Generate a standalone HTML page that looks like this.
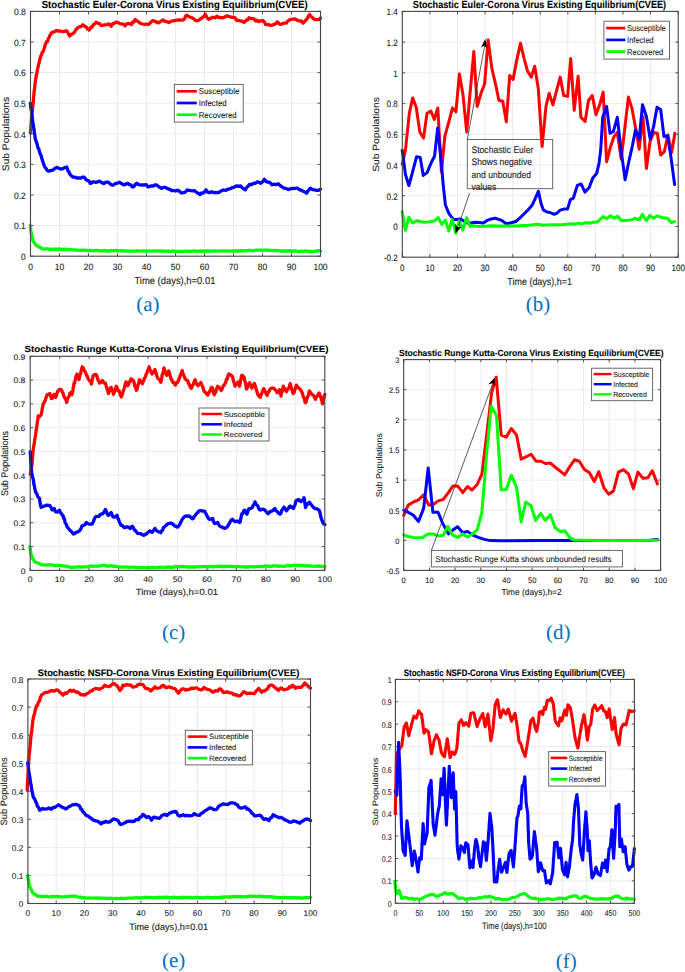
<!DOCTYPE html>
<html><head><meta charset="utf-8"><style>
html,body{margin:0;padding:0;background:#fff;overflow:hidden;width:685px;height:972px;}
svg{display:block;}
text{font-family:"Liberation Sans",sans-serif;fill:#222;stroke:#222;stroke-width:0.12px;text-rendering:geometricPrecision;}
text.ttl{font-weight:bold;fill:#000;stroke:#000;stroke-width:0.1px;}
text.cap{font-family:"Liberation Serif",serif;fill:#0070c0;stroke:none;}
</style></head><body>
<svg width="685" height="972" viewBox="0 0 685 972">
<rect width="685" height="972" fill="#fff"/>
<g>
<path d="M59.5 11.4V256.2M88.5 11.4V256.2M117.5 11.4V256.2M146.5 11.4V256.2M175.5 11.4V256.2M204.5 11.4V256.2M233.5 11.4V256.2M262.5 11.4V256.2M291.5 11.4V256.2M30.5 225.6H320.5M30.5 195.0H320.5M30.5 164.4H320.5M30.5 133.8H320.5M30.5 103.2H320.5M30.5 72.6H320.5M30.5 42.0H320.5" stroke="#ebebeb" stroke-width="1" fill="none"/>
<path d="M30.5 256.2v-3.0M30.5 11.4v3.0M59.5 256.2v-3.0M59.5 11.4v3.0M88.5 256.2v-3.0M88.5 11.4v3.0M117.5 256.2v-3.0M117.5 11.4v3.0M146.5 256.2v-3.0M146.5 11.4v3.0M175.5 256.2v-3.0M175.5 11.4v3.0M204.5 256.2v-3.0M204.5 11.4v3.0M233.5 256.2v-3.0M233.5 11.4v3.0M262.5 256.2v-3.0M262.5 11.4v3.0M291.5 256.2v-3.0M291.5 11.4v3.0M320.5 256.2v-3.0M320.5 11.4v3.0M30.5 256.2h3.0M320.5 256.2h-3.0M30.5 225.6h3.0M320.5 225.6h-3.0M30.5 195.0h3.0M320.5 195.0h-3.0M30.5 164.4h3.0M320.5 164.4h-3.0M30.5 133.8h3.0M320.5 133.8h-3.0M30.5 103.2h3.0M320.5 103.2h-3.0M30.5 72.6h3.0M320.5 72.6h-3.0M30.5 42.0h3.0M320.5 42.0h-3.0M30.5 11.4h3.0M320.5 11.4h-3.0" stroke="#444" stroke-width="0.9" fill="none"/>
<polyline points="30.3,133.1 30.5,131.9 30.6,129.9 30.8,128.4 30.9,126.4 31.1,124.9 31.2,121.9 31.4,121.4 31.5,118.1 31.7,117.9 31.9,116.1 32.0,113.2 32.2,111.5 32.4,111.1 32.5,109.2 32.7,106.0 32.9,106.0 33.0,103.6 33.2,102.6 33.4,100.8 33.5,97.5 33.7,96.4 33.9,94.4 34.0,93.3 34.2,90.6 34.4,90.0 34.5,88.8 34.7,87.2 35.0,84.6 35.2,82.6 35.5,80.8 35.8,78.8 36.0,77.9 36.3,75.3 36.6,73.7 37.0,72.8 37.3,70.4 37.6,68.5 38.0,67.9 38.3,65.6 38.8,63.7 39.2,62.5 39.7,60.0 40.3,57.6 40.8,56.1 41.4,54.9 42.0,53.1 42.6,51.7 43.5,50.9 44.5,47.4 45.0,45.5 45.5,44.2 46.5,41.8 47.5,41.4 48.4,38.6 49.2,37.1 50.2,35.1 51.1,33.6 52.1,32.1 53.6,32.2 55.0,31.3 56.5,30.5 58.3,31.1 60.1,31.0 63.0,31.7 64.6,31.4 66.2,30.7 67.3,31.6 68.5,33.9 69.6,36.1 71.4,34.2 73.3,33.4 74.7,31.8 76.2,29.2 77.6,28.0 79.3,26.7 81.0,26.6 82.7,24.8 84.6,26.2 86.4,27.2 87.8,29.3 89.3,30.0 90.8,27.2 92.2,27.0 93.4,24.6 94.7,23.9 95.9,22.3 97.7,23.1 99.5,23.6 101.0,25.3 102.5,25.3 104.7,24.8 106.8,24.6 109.0,23.8 111.2,26.2 112.7,23.6 114.1,23.6 115.6,22.2 117.8,22.3 120.0,23.7 121.7,24.0 123.4,24.2 125.1,25.9 126.5,24.1 127.9,23.4 129.8,23.7 131.6,24.5 132.8,22.0 134.0,22.0 135.2,19.5 136.6,20.7 138.1,21.6 140.3,23.3 142.5,24.0 144.5,24.5 146.4,24.0 148.4,24.6 149.8,23.4 151.3,21.7 152.8,20.7 154.2,21.1 155.6,21.3 157.1,22.7 158.6,22.8 160.1,21.7 161.5,20.9 163.0,19.9 164.9,21.4 166.9,21.6 168.8,22.6 171.0,21.2 173.2,20.8 175.1,20.4 177.1,20.1 179.0,20.0 181.2,20.2 183.4,19.8 184.6,18.7 185.8,15.8 187.0,15.2 188.7,16.5 190.5,17.2 192.2,17.9 193.9,18.9 195.6,20.6 197.3,20.7 199.1,20.0 200.9,18.6 202.4,17.5 203.8,16.4 205.3,14.2 206.5,16.5 207.7,18.5 208.9,19.4 210.8,18.3 212.6,17.2 214.8,17.9 217.0,16.1 218.7,17.7 220.3,17.3 222.0,17.8 224.2,17.3 226.4,15.9 228.3,16.2 230.3,16.9 232.2,17.3 233.7,17.1 235.1,17.9 236.6,20.5 238.4,20.2 240.2,21.1 242.1,21.2 243.9,22.5 245.2,21.3 246.4,20.1 247.7,20.0 249.0,17.7 250.7,18.6 252.4,18.6 254.1,18.9 255.6,20.9 257.0,20.2 258.5,21.6 260.7,20.9 262.9,20.5 264.4,22.1 265.8,24.6 267.3,24.7 269.0,24.6 270.7,25.5 272.4,25.1 274.1,24.4 275.8,23.6 277.5,21.7 278.9,23.7 280.4,24.4 282.3,23.7 284.3,23.2 286.2,23.2 287.7,21.1 289.1,20.2 290.6,19.3 292.6,19.1 294.5,18.8 296.5,19.8 298.1,20.6 299.8,21.0 301.4,20.8 303.0,23.2 304.9,21.3 306.7,19.1 307.7,17.9 308.6,15.9 309.6,14.4 310.8,16.1 312.0,17.2 313.2,18.5 315.4,19.7 317.6,19.7 319.1,19.7 320.5,18.1" stroke="#ff0000" stroke-width="3.3" fill="none" stroke-linejoin="round" stroke-linecap="round"/>
<polyline points="30.3,103.3 30.5,104.6 30.8,107.7 31.0,108.9 31.2,109.6 31.5,111.2 31.7,113.2 32.0,116.2 32.2,116.7 32.4,118.6 32.7,121.9 32.9,122.2 33.1,124.3 33.5,126.0 33.8,128.4 34.2,130.7 34.4,133.0 34.6,134.0 34.9,135.4 35.1,137.8 35.3,139.2 35.9,140.5 36.5,142.4 37.0,143.5 37.6,146.6 38.2,148.1 38.8,148.8 39.4,151.6 39.9,152.9 40.5,154.6 41.1,155.5 41.7,158.0 42.3,160.0 42.9,161.9 43.5,163.3 44.1,165.7 45.2,167.5 46.2,168.7 47.3,170.6 48.4,171.1 49.9,170.9 51.3,170.4 52.8,170.2 55.0,168.3 57.2,167.4 59.4,168.7 61.6,169.0 63.3,168.4 65.0,167.5 66.7,167.0 67.4,169.1 68.1,171.2 68.9,171.5 69.6,173.8 70.3,174.5 71.8,176.3 73.2,177.2 74.7,177.1 76.9,178.0 79.1,178.0 80.8,178.2 82.5,177.1 84.2,177.2 86.1,179.7 87.9,180.7 89.1,181.0 90.3,183.4 91.5,182.9 93.3,181.7 95.2,182.3 97.3,182.0 99.5,181.2 101.7,182.6 103.9,183.5 106.1,182.2 108.3,182.1 110.1,183.9 111.9,185.0 113.6,185.1 115.4,183.4 117.1,183.4 119.2,182.3 121.4,183.4 123.6,184.9 125.8,184.1 127.9,183.4 129.4,184.6 130.9,184.9 132.3,187.0 133.8,186.7 135.2,184.5 136.7,183.2 138.6,184.6 140.6,185.0 142.5,185.0 144.3,184.9 146.2,184.6 148.0,186.9 149.8,186.4 151.5,185.8 153.2,186.1 154.9,184.8 156.6,185.0 158.3,186.3 160.0,187.6 161.7,188.4 163.4,187.3 165.1,187.3 166.9,188.3 168.8,189.2 170.2,189.4 171.7,190.7 173.7,190.5 175.6,191.0 177.6,190.2 179.5,191.2 181.5,192.9 183.4,192.6 185.2,192.2 187.0,190.0 189.0,190.3 190.9,190.7 192.9,190.9 194.7,190.6 196.6,192.4 198.4,193.3 200.2,194.6 201.6,192.8 203.1,193.2 204.6,191.9 206.0,189.8 207.8,192.3 209.7,192.7 211.5,191.6 213.3,192.6 215.2,192.5 217.0,192.6 218.7,192.5 220.3,191.5 222.0,190.3 223.9,190.0 225.9,190.4 227.8,189.3 229.3,188.9 230.8,188.5 232.2,187.6 233.7,187.3 235.4,186.3 237.1,185.8 238.8,186.4 240.5,185.9 242.1,187.7 243.8,188.8 245.4,189.8 246.8,187.2 248.3,185.9 249.7,184.2 251.5,184.8 253.3,183.3 255.2,183.3 257.0,182.0 258.9,182.2 260.7,183.3 261.9,182.3 263.1,181.3 264.3,179.2 265.8,181.2 267.2,182.0 268.7,182.1 270.4,182.9 272.1,184.8 273.8,184.2 276.0,184.7 278.2,183.7 279.9,185.4 281.6,186.5 283.3,187.8 285.0,188.2 286.7,188.8 288.4,189.6 290.2,188.8 292.1,188.5 293.8,188.3 295.5,188.4 297.2,188.0 299.4,189.6 301.6,190.4 303.3,191.2 305.0,192.1 306.7,193.2 307.9,191.0 309.1,189.5 310.3,188.2 312.5,189.6 314.7,189.9 316.9,190.5 319.1,190.1 320.5,189.2" stroke="#0000ff" stroke-width="3.3" fill="none" stroke-linejoin="round" stroke-linecap="round"/>
<polyline points="30.2,225.5 30.4,227.6 30.7,229.3 30.9,231.0 31.2,233.4 31.6,235.1 32.0,236.1 32.3,237.8 32.7,239.6 33.1,240.9 34.3,242.5 35.6,244.8 36.8,245.6 38.7,246.7 40.7,247.8 42.6,248.8 44.4,249.1 46.2,248.8 48.1,248.9 49.9,249.5 51.5,249.5 53.1,249.2 54.8,249.2 56.4,249.6 58.0,249.0 59.6,249.0 61.3,249.6 62.9,249.5 64.5,249.0 66.1,249.7 67.7,249.4 69.4,249.5 71.0,249.6 72.6,250.0 74.2,249.9 75.9,249.9 77.5,250.3 79.1,250.4 80.7,250.2 82.3,250.3 84.0,250.1 85.6,250.1 87.2,250.6 88.8,250.5 90.5,250.4 92.1,250.7 93.7,251.0 95.3,250.4 96.9,250.3 98.6,250.9 100.2,250.9 101.8,250.6 103.4,250.8 105.1,250.6 106.7,251.0 108.3,250.8 109.9,251.0 111.6,250.5 113.2,250.9 114.9,250.5 116.5,250.6 118.2,250.8 119.8,250.9 121.4,250.7 123.1,250.8 124.7,251.2 126.4,251.0 128.0,251.2 129.6,251.1 131.2,251.0 132.8,251.2 134.4,251.3 136.0,250.8 137.6,250.8 139.2,251.1 140.8,251.2 142.4,250.9 144.0,251.0 145.6,250.8 147.2,251.0 148.8,251.2 150.4,251.1 152.0,251.1 153.6,251.0 155.2,251.1 156.8,250.9 158.4,250.9 160.0,251.4 161.6,250.8 163.2,251.2 164.8,251.2 166.4,251.2 168.0,251.3 169.6,251.2 171.2,251.5 172.8,251.0 174.4,251.2 176.0,251.3 177.6,251.4 179.2,251.4 180.8,251.4 182.4,251.1 184.0,251.3 185.6,251.0 187.2,251.4 188.8,251.3 190.4,251.4 192.0,251.1 193.6,251.0 195.2,251.0 196.8,251.4 198.4,251.2 200.0,250.9 201.6,251.6 203.2,251.2 204.8,251.0 206.4,251.0 208.0,251.0 209.6,251.3 211.2,251.0 212.8,251.0 214.4,250.9 216.0,251.0 217.6,251.2 219.2,251.2 220.8,251.2 222.4,250.7 224.0,251.2 225.6,250.8 227.2,251.2 228.8,250.9 230.4,251.1 232.0,251.2 233.6,250.8 235.2,251.0 236.8,251.0 238.4,251.1 240.0,250.6 241.7,251.2 243.4,250.6 245.1,250.7 246.8,250.9 248.5,250.3 250.2,250.4 251.8,250.5 253.5,250.8 255.2,250.2 256.9,250.1 258.6,250.2 260.3,250.2 262.0,250.1 263.6,250.4 265.3,250.0 266.9,250.2 268.5,250.2 270.2,250.4 271.8,250.4 273.5,250.6 275.1,250.7 276.7,250.3 278.4,250.7 280.0,251.0 281.7,250.8 283.3,251.0 285.0,251.3 286.7,250.8 288.3,251.2 290.0,250.7 291.7,250.9 293.3,251.4 295.0,251.0 296.7,251.2 298.3,251.6 300.0,251.4 301.7,251.1 303.4,251.4 305.1,251.0 306.8,251.0 308.5,251.5 310.2,251.3 312.0,251.5 313.7,251.3 315.4,251.3 317.1,250.9 318.8,250.7 320.5,251.0" stroke="#00ff00" stroke-width="3.3" fill="none" stroke-linejoin="round" stroke-linecap="round"/>
<rect x="30.5" y="11.4" width="290.0" height="244.8" stroke="#444" stroke-width="1.1" fill="none"/>
<text transform="translate(25.80 260.07) scale(0.8500 0.9137)" font-size="10" text-anchor="end">0</text>
<text transform="translate(25.80 229.47) scale(0.8500 0.9137)" font-size="10" text-anchor="end">0.1</text>
<text transform="translate(25.80 198.87) scale(0.8500 0.9137)" font-size="10" text-anchor="end">0.2</text>
<text transform="translate(25.80 168.27) scale(0.8500 0.9137)" font-size="10" text-anchor="end">0.3</text>
<text transform="translate(25.80 137.67) scale(0.8500 0.9137)" font-size="10" text-anchor="end">0.4</text>
<text transform="translate(25.80 107.07) scale(0.8500 0.9137)" font-size="10" text-anchor="end">0.5</text>
<text transform="translate(25.80 76.47) scale(0.8500 0.9137)" font-size="10" text-anchor="end">0.6</text>
<text transform="translate(25.80 45.87) scale(0.8500 0.9137)" font-size="10" text-anchor="end">0.7</text>
<text transform="translate(25.80 15.27) scale(0.8500 0.9137)" font-size="10" text-anchor="end">0.8</text>
<text transform="translate(30.50 269.70) scale(0.8500 0.9137)" font-size="10" text-anchor="middle">0</text>
<text transform="translate(59.50 269.70) scale(0.8500 0.9137)" font-size="10" text-anchor="middle">10</text>
<text transform="translate(88.50 269.70) scale(0.8500 0.9137)" font-size="10" text-anchor="middle">20</text>
<text transform="translate(117.50 269.70) scale(0.8500 0.9137)" font-size="10" text-anchor="middle">30</text>
<text transform="translate(146.50 269.70) scale(0.8500 0.9137)" font-size="10" text-anchor="middle">40</text>
<text transform="translate(175.50 269.70) scale(0.8500 0.9137)" font-size="10" text-anchor="middle">50</text>
<text transform="translate(204.50 269.70) scale(0.8500 0.9137)" font-size="10" text-anchor="middle">60</text>
<text transform="translate(233.50 269.70) scale(0.8500 0.9137)" font-size="10" text-anchor="middle">70</text>
<text transform="translate(262.50 269.70) scale(0.8500 0.9137)" font-size="10" text-anchor="middle">80</text>
<text transform="translate(291.50 269.70) scale(0.8500 0.9137)" font-size="10" text-anchor="middle">90</text>
<text transform="translate(320.50 269.70) scale(0.8500 0.9137)" font-size="10" text-anchor="middle">100</text>
<text transform="translate(174.90 283.80) scale(0.9410 1.0116)" font-size="10" text-anchor="middle">Time (days),h=0.01</text>
<text transform="translate(9.00 134.00) rotate(-90) scale(1.0202 0.9490)" font-size="10" text-anchor="middle">Sub Populations</text>
<text transform="translate(41.70 7.60) scale(0.9580 1.0298)" font-size="10" class="ttl" textLength="277.56" lengthAdjust="spacingAndGlyphs">Stochastic Euler-Corona Virus Existing Equilibrium(CVEE)</text>
<rect x="174.3" y="84.4" width="68.9" height="37.7" stroke="#5a5a5a" stroke-width="0.9" fill="#fff"/>
<path d="M176.7 91.3H196.8" stroke="#ff0000" stroke-width="2.7"/>
<text transform="translate(198.70 94.21) scale(0.7850 0.8439)" font-size="10">Susceptible</text>
<path d="M176.7 103.0H196.8" stroke="#0000ff" stroke-width="2.7"/>
<text transform="translate(198.70 105.91) scale(0.7850 0.8439)" font-size="10">Infected</text>
<path d="M176.7 114.7H196.8" stroke="#00ff00" stroke-width="2.7"/>
<text transform="translate(198.70 117.61) scale(0.7850 0.8439)" font-size="10">Recovered</text>
<path d="M429.9 11.4V257.2M457.5 11.4V257.2M485.1 11.4V257.2M512.7 11.4V257.2M540.2 11.4V257.2M567.8 11.4V257.2M595.4 11.4V257.2M623.0 11.4V257.2M650.6 11.4V257.2M402.3 226.5H678.2M402.3 195.7H678.2M402.3 165.0H678.2M402.3 134.3H678.2M402.3 103.6H678.2M402.3 72.8H678.2M402.3 42.1H678.2" stroke="#ebebeb" stroke-width="1" fill="none"/>
<path d="M402.3 257.2v-3.0M402.3 11.4v3.0M429.9 257.2v-3.0M429.9 11.4v3.0M457.5 257.2v-3.0M457.5 11.4v3.0M485.1 257.2v-3.0M485.1 11.4v3.0M512.7 257.2v-3.0M512.7 11.4v3.0M540.2 257.2v-3.0M540.2 11.4v3.0M567.8 257.2v-3.0M567.8 11.4v3.0M595.4 257.2v-3.0M595.4 11.4v3.0M623.0 257.2v-3.0M623.0 11.4v3.0M650.6 257.2v-3.0M650.6 11.4v3.0M678.2 257.2v-3.0M678.2 11.4v3.0M402.3 257.2h2.9M678.2 257.2h-2.9M402.3 226.5h2.9M678.2 226.5h-2.9M402.3 195.7h2.9M678.2 195.7h-2.9M402.3 165.0h2.9M678.2 165.0h-2.9M402.3 134.3h2.9M678.2 134.3h-2.9M402.3 103.6h2.9M678.2 103.6h-2.9M402.3 72.8h2.9M678.2 72.8h-2.9M402.3 42.1h2.9M678.2 42.1h-2.9M402.3 11.4h2.9M678.2 11.4h-2.9" stroke="#444" stroke-width="0.9" fill="none"/>
<polyline points="402.2,164.3 405.4,150.4 409.3,113.4 412.7,97.9 416.2,107.2 419.8,131.9 423.5,138.1 427.0,113.4 430.9,111.0 434.3,119.5 437.8,108.0 441.4,172.0 444.8,136.5 448.6,122.6 452.5,108.0 455.9,111.8 459.4,74.0 463.0,94.8 466.7,131.9 470.2,91.7 473.8,51.6 477.2,106.4 481.0,93.3 484.6,84.0 488.1,40.0 491.9,68.6 495.5,84.0 498.9,100.2 502.8,101.3 506.3,121.8 509.7,75.5 513.1,79.4 516.6,60.9 520.5,43.1 523.9,57.8 527.5,70.9 531.3,77.1 534.7,66.3 538.3,88.7 542.1,146.5 546.0,106.4 549.1,93.3 552.9,104.9 556.3,91.7 560.2,77.1 563.7,95.6 567.6,96.4 570.7,58.6 574.2,110.3 578.1,76.2 580.9,117.3 585.1,121.5 588.5,100.5 592.3,95.5 596.0,114.8 599.9,103.9 603.2,92.1 606.6,161.8 610.3,147.5 614.0,136.6 617.3,132.4 621.2,159.3 628.4,97.1 632.1,108.9 635.5,127.4 639.2,149.2 643.0,116.5 646.4,168.5 650.2,140.8 653.9,132.4 657.3,133.2 660.7,155.1 664.3,151.7 667.9,134.9 671.6,152.5 674.9,133.2" stroke="#ff0000" stroke-width="3.0" fill="none" stroke-linejoin="round" stroke-linecap="round"/>
<polyline points="402.2,150.2 405.5,174.7 408.9,185.5 413.0,170.4 416.6,156.7 420.2,157.4 423.3,175.4 427.1,172.6 431.0,163.2 434.6,156.0 437.7,127.9 441.0,158.9 443.2,184.8 445.4,205.0 449.0,213.6 453.3,219.4 456.9,219.4 460.5,219.1 463.4,220.8 467.0,223.0 470.6,223.0 474.9,222.2 479.2,222.5 483.5,223.0 487.8,220.1 490.1,219.3 495.2,218.3 501.1,220.1 506.2,223.7 511.3,222.7 515.7,221.5 520.0,217.9 524.4,213.5 528.8,209.1 532.4,204.7 535.4,198.2 538.3,191.2 541.2,204.0 543.4,209.9 547.0,212.0 550.0,212.5 553.6,214.2 556.5,213.5 560.2,210.1 563.8,209.1 567.5,209.1 570.4,199.6 573.3,198.2 577.4,185.3 581.1,184.0 585.0,192.1 589.1,187.7 592.7,178.1 596.7,173.3 599.1,162.8 600.7,150.0 602.7,117.3 606.6,106.4 610.0,133.2 613.3,131.6 617.3,117.3 621.2,150.9 625.1,179.7 628.8,161.8 632.4,145.8 635.5,129.9 639.2,139.1 642.5,104.7 646.4,116.5 650.2,139.1 653.6,126.5 657.0,107.2 660.7,109.7 664.0,136.6 667.4,135.8 670.7,155.1 674.6,184.5" stroke="#0000ff" stroke-width="3.0" fill="none" stroke-linejoin="round" stroke-linecap="round"/>
<polyline points="402.2,211.4 405.5,230.2 408.9,217.2 412.7,223.0 416.6,220.8 420.2,221.5 423.8,222.2 427.4,222.0 431.0,221.5 434.6,220.8 438.2,217.6 441.8,224.4 445.4,220.1 448.7,230.9 452.1,219.4 455.9,233.0 459.3,220.8 462.9,230.2 466.5,217.9 470.1,226.3 473.7,225.8 477.8,226.6 482.1,226.3 486.4,226.3 490.0,225.8 499.6,225.9 514.2,225.9 528.8,225.2 537.6,224.2 543.4,225.2 550.7,224.7 560.9,224.7 571.1,223.7 575.0,224.2 578.2,223.1 581.4,224.2 585.4,222.6 589.5,223.2 593.5,222.3 597.5,221.9 603.1,216.6 606.8,218.7 610.3,215.8 614.3,218.3 617.6,216.2 621.6,220.7 626.4,220.3 631.2,219.9 635.2,218.3 639.2,219.9 642.4,214.2 646.5,220.7 649.7,215.5 653.7,218.3 657.2,215.8 661.7,217.4 667.3,218.3 671.4,222.6 674.6,221.5" stroke="#00ff00" stroke-width="3.0" fill="none" stroke-linejoin="round" stroke-linecap="round"/>
<rect x="402.3" y="11.4" width="275.9" height="245.8" stroke="#444" stroke-width="1.1" fill="none"/>
<text transform="translate(397.83 261.09) scale(0.8087 0.9175)" font-size="10" text-anchor="end">-0.2</text>
<text transform="translate(397.83 230.36) scale(0.8087 0.9175)" font-size="10" text-anchor="end">0</text>
<text transform="translate(397.83 199.64) scale(0.8087 0.9175)" font-size="10" text-anchor="end">0.2</text>
<text transform="translate(397.83 168.91) scale(0.8087 0.9175)" font-size="10" text-anchor="end">0.4</text>
<text transform="translate(397.83 138.19) scale(0.8087 0.9175)" font-size="10" text-anchor="end">0.6</text>
<text transform="translate(397.83 107.46) scale(0.8087 0.9175)" font-size="10" text-anchor="end">0.8</text>
<text transform="translate(397.83 76.74) scale(0.8087 0.9175)" font-size="10" text-anchor="end">1</text>
<text transform="translate(397.83 46.01) scale(0.8087 0.9175)" font-size="10" text-anchor="end">1.2</text>
<text transform="translate(397.83 15.29) scale(0.8087 0.9175)" font-size="10" text-anchor="end">1.4</text>
<text transform="translate(402.30 270.76) scale(0.8087 0.9175)" font-size="10" text-anchor="middle">0</text>
<text transform="translate(429.89 270.76) scale(0.8087 0.9175)" font-size="10" text-anchor="middle">10</text>
<text transform="translate(457.48 270.76) scale(0.8087 0.9175)" font-size="10" text-anchor="middle">20</text>
<text transform="translate(485.07 270.76) scale(0.8087 0.9175)" font-size="10" text-anchor="middle">30</text>
<text transform="translate(512.66 270.76) scale(0.8087 0.9175)" font-size="10" text-anchor="middle">40</text>
<text transform="translate(540.25 270.76) scale(0.8087 0.9175)" font-size="10" text-anchor="middle">50</text>
<text transform="translate(567.84 270.76) scale(0.8087 0.9175)" font-size="10" text-anchor="middle">60</text>
<text transform="translate(595.43 270.76) scale(0.8087 0.9175)" font-size="10" text-anchor="middle">70</text>
<text transform="translate(623.02 270.76) scale(0.8087 0.9175)" font-size="10" text-anchor="middle">80</text>
<text transform="translate(650.61 270.76) scale(0.8087 0.9175)" font-size="10" text-anchor="middle">90</text>
<text transform="translate(678.20 270.76) scale(0.8087 0.9175)" font-size="10" text-anchor="middle">100</text>
<text transform="translate(539.65 284.91) scale(0.8952 1.0157)" font-size="10" text-anchor="middle">Time (days),h=1</text>
<text transform="translate(379.00 134.50) rotate(-90) scale(1.0243 0.9029)" font-size="10" text-anchor="middle">Sub Populations</text>
<text transform="translate(412.81 7.58) scale(0.9114 1.0341)" font-size="10" class="ttl" textLength="277.92" lengthAdjust="spacingAndGlyphs">Stochastic Euler-Corona Virus Existing Equilibrium(CVEE)</text>
<rect x="603.9" y="21.2" width="65.6" height="37.9" stroke="#5a5a5a" stroke-width="0.9" fill="#fff"/>
<path d="M606.2 28.1H625.3" stroke="#ff0000" stroke-width="2.7"/>
<text transform="translate(627.11 31.05) scale(0.7468 0.8473)" font-size="10">Susceptible</text>
<path d="M606.2 39.9H625.3" stroke="#0000ff" stroke-width="2.7"/>
<text transform="translate(627.11 42.80) scale(0.7468 0.8473)" font-size="10">Infected</text>
<path d="M606.2 51.6H625.3" stroke="#00ff00" stroke-width="2.7"/>
<text transform="translate(627.11 54.55) scale(0.7468 0.8473)" font-size="10">Recovered</text>
<path d="M59.7 356.3V570.4M89.1 356.3V570.4M118.6 356.3V570.4M148.0 356.3V570.4M177.5 356.3V570.4M207.0 356.3V570.4M236.4 356.3V570.4M265.9 356.3V570.4M295.3 356.3V570.4M30.2 546.6H324.8M30.2 522.8H324.8M30.2 499.0H324.8M30.2 475.2H324.8M30.2 451.5H324.8M30.2 427.7H324.8M30.2 403.9H324.8M30.2 380.1H324.8" stroke="#ebebeb" stroke-width="1" fill="none"/>
<path d="M30.2 570.4v-2.6M30.2 356.3v2.6M59.7 570.4v-2.6M59.7 356.3v2.6M89.1 570.4v-2.6M89.1 356.3v2.6M118.6 570.4v-2.6M118.6 356.3v2.6M148.0 570.4v-2.6M148.0 356.3v2.6M177.5 570.4v-2.6M177.5 356.3v2.6M207.0 570.4v-2.6M207.0 356.3v2.6M236.4 570.4v-2.6M236.4 356.3v2.6M265.9 570.4v-2.6M265.9 356.3v2.6M295.3 570.4v-2.6M295.3 356.3v2.6M324.8 570.4v-2.6M324.8 356.3v2.6M30.2 570.4h3.0M324.8 570.4h-3.0M30.2 546.6h3.0M324.8 546.6h-3.0M30.2 522.8h3.0M324.8 522.8h-3.0M30.2 499.0h3.0M324.8 499.0h-3.0M30.2 475.2h3.0M324.8 475.2h-3.0M30.2 451.5h3.0M324.8 451.5h-3.0M30.2 427.7h3.0M324.8 427.7h-3.0M30.2 403.9h3.0M324.8 403.9h-3.0M30.2 380.1h3.0M324.8 380.1h-3.0M30.2 356.3h3.0M324.8 356.3h-3.0" stroke="#444" stroke-width="0.9" fill="none"/>
<polyline points="30.2,474.3 30.6,473.3 30.9,470.3 31.2,469.2 31.6,467.6 31.8,465.8 31.9,464.1 32.1,462.8 32.2,460.2 32.4,460.1 32.5,456.9 32.6,455.5 32.8,454.5 33.0,452.9 33.1,450.7 33.3,448.8 33.6,446.4 33.8,446.4 34.1,443.9 34.3,443.3 34.6,439.9 34.8,439.0 35.1,437.5 35.3,435.6 35.5,434.8 35.8,433.3 36.0,430.8 36.3,429.8 36.5,427.4 36.8,426.6 37.0,425.1 37.2,423.4 37.5,421.2 37.7,420.4 38.0,417.7 38.2,416.0 39.7,416.6 41.1,414.7 41.4,413.8 41.7,412.0 42.0,410.3 42.4,407.8 42.7,406.6 43.0,404.7 43.3,403.9 44.4,402.1 45.5,399.8 46.0,397.3 46.5,396.8 47.0,394.7 49.9,393.6 50.4,395.3 50.9,396.8 51.4,398.6 52.3,398.4 53.1,395.7 54.0,394.6 54.9,395.8 55.7,397.4 56.2,396.3 56.8,393.7 57.4,391.8 57.9,390.9 59.8,389.3 61.6,389.9 62.1,391.7 62.7,392.7 63.2,393.4 63.8,396.1 64.5,397.5 65.2,398.6 66.0,399.9 66.7,402.5 67.3,399.9 67.9,397.7 68.5,397.5 69.1,396.0 69.7,393.5 70.3,392.8 71.0,393.7 71.8,394.8 72.2,393.5 72.5,391.7 72.9,390.3 73.3,387.3 73.6,386.7 74.0,383.2 74.5,383.3 75.0,380.9 75.5,379.6 75.9,376.7 76.4,375.4 76.9,374.1 77.6,376.0 78.4,376.7 79.1,379.5 79.6,376.5 80.0,375.1 80.5,373.8 80.9,371.8 81.4,370.4 81.8,368.7 82.3,366.8 83.2,367.9 84.0,369.8 84.8,371.2 85.7,372.8 86.4,375.1 87.2,376.1 87.9,378.2 88.8,379.8 89.7,381.1 90.6,381.1 91.5,384.0 91.9,381.6 92.2,379.9 92.6,378.1 93.0,375.8 94.7,374.7 96.3,374.6 96.9,376.0 97.6,378.8 98.2,380.6 98.9,381.2 99.5,383.1 101.0,382.3 102.5,380.5 104.0,383.0 105.4,383.2 105.9,384.7 106.4,387.2 106.8,387.7 107.3,389.8 107.8,390.4 108.3,393.6 109.0,392.0 109.8,390.7 110.5,387.9 111.2,387.4 111.8,388.2 112.3,391.0 112.9,391.5 113.4,394.3 114.1,392.6 114.8,391.2 115.6,388.9 116.3,386.3 117.3,388.5 118.2,390.8 119.2,390.7 119.9,393.6 120.7,395.6 121.4,396.8 122.0,395.2 122.5,393.2 123.0,392.2 123.6,389.7 124.1,388.6 124.6,387.0 125.1,385.0 125.6,382.9 126.1,381.9 127.0,382.9 127.9,385.7 128.6,384.1 129.4,382.0 130.1,381.9 130.9,379.0 131.6,379.1 132.7,379.9 133.8,381.2 134.3,383.7 134.8,386.2 135.4,386.4 135.9,388.8 136.4,390.3 136.9,389.9 137.3,388.3 137.8,385.4 138.2,384.4 138.7,383.1 139.1,381.0 139.6,379.6 141.1,381.7 142.5,383.7 143.1,381.0 143.7,381.0 144.3,378.4 145.0,377.5 145.6,376.2 146.2,374.1 146.9,373.1 147.6,370.5 148.4,368.9 149.1,366.8 149.8,369.3 150.6,370.6 151.3,372.4 152.0,374.0 153.0,373.0 153.9,371.6 154.9,369.5 155.5,372.0 156.1,372.6 156.6,375.6 157.2,376.8 157.8,378.6 159.3,379.4 160.8,382.2 161.2,380.9 161.6,379.0 162.0,375.9 162.4,374.1 162.9,373.0 163.3,372.2 163.7,369.3 164.1,367.9 164.6,370.2 165.1,372.0 165.6,373.1 166.1,374.1 166.6,375.4 167.2,373.8 167.9,372.7 168.5,370.9 169.0,371.7 169.6,373.3 170.1,376.0 170.6,377.0 171.2,379.4 171.7,379.8 172.9,382.4 174.2,383.0 175.4,385.1 176.6,382.4 177.8,382.3 179.0,378.9 179.5,378.0 180.1,376.3 180.6,374.4 181.1,373.7 181.7,371.7 182.2,370.5 182.7,372.7 183.3,374.1 183.8,375.6 184.4,376.8 184.9,378.5 186.4,380.1 187.8,380.8 188.5,383.4 189.2,384.1 190.0,386.4 190.7,387.8 191.4,388.2 192.1,386.0 192.9,385.3 193.6,383.4 194.4,381.2 195.1,379.8 196.1,382.9 197.0,384.6 198.0,385.7 199.4,384.2 200.9,382.6 201.6,384.3 202.4,386.2 203.1,387.7 203.9,390.7 204.6,392.1 205.7,392.5 206.8,394.4 207.9,395.0 208.7,393.4 209.5,391.4 210.3,390.4 211.1,387.8 211.9,387.2 212.4,388.1 212.9,390.2 213.3,392.6 213.8,393.7 214.3,394.7 214.9,393.2 215.4,392.7 216.0,391.1 216.6,388.9 217.1,387.6 217.7,386.2 218.9,387.3 220.2,388.8 221.4,390.5 222.3,388.5 223.2,386.0 224.2,385.0 225.1,383.6 225.9,381.5 226.6,378.8 227.4,378.7 228.1,375.5 228.9,374.0 232.0,375.9 232.4,377.0 232.9,378.0 233.3,380.5 233.7,381.3 234.1,382.9 234.6,384.0 235.0,386.2 236.0,384.7 237.1,383.7 238.1,382.1 238.6,383.5 239.1,384.4 239.6,386.2 239.9,384.2 240.3,383.3 240.6,380.3 240.9,380.0 241.2,377.8 241.6,375.6 241.9,375.2 243.1,376.1 244.2,377.6 244.6,379.8 245.0,381.5 245.3,382.3 245.7,384.1 246.1,386.6 246.5,389.0 247.5,387.5 248.6,384.2 249.6,382.7 250.4,384.9 251.1,386.0 251.9,388.2 252.8,386.1 253.6,384.4 254.5,383.5 254.9,384.7 255.4,386.6 255.8,387.8 256.2,389.3 256.7,390.5 257.1,392.3 257.6,393.5 258.0,395.1 260.3,397.3 261.0,394.6 261.7,393.8 262.3,391.5 263.0,390.8 263.7,388.6 264.6,390.2 265.4,392.0 266.3,394.0 267.2,395.4 268.0,392.4 268.8,392.0 269.5,390.0 270.3,388.7 272.2,388.0 274.1,388.4 275.1,389.7 276.2,390.7 277.2,392.9 278.4,391.8 279.5,389.8 280.0,391.5 280.5,393.0 281.0,396.1 281.5,392.6 281.9,392.1 282.4,389.5 282.8,388.5 283.3,386.3 284.3,388.4 285.4,390.4 286.4,391.8 287.3,390.0 288.3,388.5 289.2,387.0 290.2,383.7 290.7,385.4 291.2,387.8 291.8,389.7 292.3,390.5 292.8,392.9 293.3,393.7 293.8,392.9 294.3,392.0 294.8,389.5 295.3,388.6 295.8,386.9 296.3,385.1 297.9,387.2 299.4,388.6 300.4,389.5 301.5,391.4 302.5,393.3 303.0,396.1 303.5,397.2 304.0,397.5 304.5,399.1 305.0,402.1 305.5,402.7 306.1,401.9 306.6,398.8 307.2,398.1 307.7,397.0 308.3,395.4 308.8,392.9 309.4,390.9 310.9,393.2 312.4,394.8 313.4,395.2 314.5,397.4 315.5,399.3 316.4,397.0 317.4,396.0 318.4,393.9 319.3,393.1 319.8,395.3 320.3,396.1 320.9,397.1 321.4,399.7 321.9,400.6 322.4,403.8 322.9,401.9 323.4,399.6 323.8,398.7 324.3,395.5 324.8,394.5" stroke="#ff0000" stroke-width="3.3" fill="none" stroke-linejoin="round" stroke-linecap="round"/>
<polyline points="30.2,451.7 30.3,452.8 30.4,455.5 30.5,456.6 30.6,459.2 30.7,461.0 30.8,462.6 30.9,464.5 31.0,465.6 31.1,468.3 31.2,469.0 31.5,470.4 31.8,473.0 32.1,474.4 32.5,476.8 32.8,477.8 33.1,478.8 33.4,480.2 33.7,482.3 34.0,485.1 34.4,485.7 34.7,488.2 35.0,489.1 35.3,491.2 36.0,492.9 36.8,493.4 37.5,496.2 38.5,497.5 39.4,498.1 39.7,500.3 40.0,502.2 40.2,503.1 40.5,505.6 40.8,506.5 41.1,507.4 42.6,506.6 44.1,506.0 45.5,505.6 47.0,505.1 49.9,505.7 50.6,506.9 51.4,508.1 52.1,509.9 54.3,508.6 55.0,510.6 55.7,511.8 57.5,512.1 59.4,510.2 60.6,512.8 61.9,514.2 62.5,515.6 63.2,515.8 63.9,518.9 64.5,518.9 65.0,522.3 65.6,523.3 66.2,524.2 66.7,526.2 67.9,527.8 69.1,529.3 70.3,530.6 71.8,531.9 73.3,534.0 74.8,533.5 76.2,532.1 77.7,532.0 79.1,531.0 80.1,530.1 81.0,528.7 82.0,525.9 83.5,525.3 84.9,524.8 86.4,522.5 87.8,523.5 89.3,524.2 92.2,524.1 92.9,522.6 93.7,520.9 94.4,518.8 95.2,517.3 95.9,516.4 98.8,516.3 100.7,514.1 102.5,513.9 104.0,512.2 105.4,509.5 106.4,511.5 107.3,514.1 108.3,515.4 109.8,514.0 111.2,512.6 112.2,515.3 113.1,516.8 114.1,517.1 115.6,516.7 117.1,515.2 117.8,518.4 118.5,519.2 119.3,521.9 120.0,522.9 120.7,525.1 121.9,525.4 123.2,526.4 124.4,527.8 126.2,527.0 127.9,526.8 130.1,528.5 132.3,526.2 133.4,527.8 134.5,529.9 135.9,531.1 137.4,533.4 140.3,533.6 142.0,534.4 143.7,535.4 145.3,534.5 146.9,533.5 148.4,531.8 149.8,530.9 152.0,532.4 153.4,530.7 154.9,528.4 156.4,530.4 157.8,531.6 159.3,531.8 160.8,532.7 161.7,530.6 162.6,530.4 163.5,527.4 164.4,526.9 166.2,525.2 168.1,523.6 171.0,523.1 172.8,524.0 174.6,525.9 177.6,527.1 179.7,524.7 180.5,522.7 181.4,520.9 182.2,519.3 183.9,517.2 185.6,516.0 187.4,516.1 189.2,515.8 190.7,517.4 192.2,518.8 193.2,518.5 194.1,516.5 195.1,515.7 196.6,513.4 198.0,512.2 199.4,510.6 200.9,510.7 202.8,511.1 204.6,511.1 205.6,513.2 206.5,514.6 207.5,516.9 208.6,518.6 209.7,519.5 212.6,518.5 213.3,520.7 214.1,522.9 214.8,523.6 217.7,522.4 218.9,525.1 220.2,526.5 221.4,526.8 224.3,528.3 225.9,527.9 227.4,526.7 228.6,524.7 229.7,522.8 231.1,520.2 232.4,519.3 233.7,520.7 235.0,521.7 237.3,521.0 239.6,522.6 240.1,521.7 240.5,519.5 241.0,518.0 241.4,515.6 241.9,513.6 242.8,513.7 243.8,510.8 244.7,510.2 245.4,512.1 246.1,512.3 246.8,514.2 247.5,512.9 248.1,510.6 248.8,508.8 251.9,508.0 252.7,506.4 253.4,504.8 254.2,504.2 255.0,501.9 256.0,504.4 257.0,505.1 258.0,506.3 259.1,509.4 260.3,510.1 261.9,509.3 263.4,509.2 265.7,510.9 266.9,512.6 268.0,513.7 269.0,512.9 270.0,511.6 271.0,511.4 272.9,510.5 274.9,508.5 276.2,510.9 277.5,511.6 278.7,513.5 279.9,514.1 280.9,513.4 281.8,510.3 283.0,508.8 284.1,507.1 285.2,509.1 286.4,510.8 287.3,509.7 288.3,508.5 289.2,506.7 290.2,506.0 291.2,507.3 292.3,507.1 293.3,508.5 293.9,507.6 294.5,505.8 295.1,504.7 295.7,501.8 296.3,500.6 298.6,499.5 299.8,501.1 300.9,501.6 301.9,500.4 303.0,499.8 304.0,497.8 304.3,499.7 304.6,501.1 304.9,503.4 305.2,504.8 305.5,507.5 306.8,504.8 308.1,503.5 309.4,502.2 310.9,504.3 312.4,506.2 313.9,507.8 315.5,508.7 317.4,508.9 319.3,510.6 319.8,511.8 320.2,513.7 320.7,516.4 321.1,517.9 321.6,519.3 322.8,522.4 323.9,524.1 324.8,524.5" stroke="#0000ff" stroke-width="3.3" fill="none" stroke-linejoin="round" stroke-linecap="round"/>
<polyline points="29.8,546.6 30.1,548.7 30.4,550.0 30.7,552.1 31.0,553.9 31.3,555.2 32.1,557.3 33.0,558.9 33.8,560.1 34.6,561.6 36.2,562.5 37.9,563.0 39.5,563.6 41.1,564.6 42.9,564.9 44.6,564.8 46.4,565.1 48.1,564.9 49.9,564.8 51.7,564.7 53.5,565.3 55.3,565.5 57.2,565.1 59.0,565.5 60.8,565.7 62.6,565.9 64.5,566.1 66.3,566.1 68.1,566.7 70.0,567.1 71.8,567.8 73.4,567.1 75.1,567.4 76.7,567.0 78.3,566.7 80.0,567.0 81.6,567.2 83.3,567.0 84.9,566.5 86.5,566.9 88.2,566.8 89.8,566.2 91.5,566.0 93.1,566.3 94.8,566.1 96.4,566.1 98.0,566.1 99.7,566.1 101.3,565.4 103.0,565.4 104.6,565.3 106.4,566.0 108.3,566.1 110.1,565.8 111.9,565.9 113.8,566.5 115.6,566.1 117.4,566.7 119.2,566.8 121.0,567.1 122.9,567.0 124.7,567.2 126.5,567.0 128.2,567.4 129.9,567.4 131.6,567.0 133.2,567.2 134.9,567.3 136.6,567.7 138.3,567.3 140.0,567.8 141.7,567.2 143.3,567.8 145.0,567.8 146.7,567.4 148.4,567.4 150.2,567.5 152.1,567.5 153.9,567.4 155.7,567.7 157.6,567.5 159.4,567.2 161.1,567.3 162.8,567.4 164.5,567.3 166.2,567.3 167.9,566.8 169.5,567.4 171.2,567.2 172.9,567.3 174.6,566.5 176.3,566.7 178.0,566.6 179.7,566.9 181.4,566.7 183.1,566.5 184.8,566.6 186.5,567.0 188.2,567.0 189.8,567.0 191.5,567.1 193.2,567.0 194.9,567.2 196.6,566.6 198.3,566.6 200.0,567.0 201.7,566.5 203.3,566.7 205.0,566.6 206.7,566.6 208.3,567.0 210.0,566.4 211.7,566.7 213.3,567.0 215.0,566.2 216.7,566.5 218.3,566.3 220.0,566.1 221.7,566.5 223.3,566.7 225.0,566.7 226.7,566.2 228.3,566.4 230.0,566.4 231.7,566.4 233.3,566.6 235.0,566.8 236.7,566.6 238.3,566.5 240.0,566.6 241.7,566.8 243.3,566.5 245.0,567.1 246.7,566.8 248.3,567.1 250.0,566.7 251.7,566.6 253.3,566.8 255.0,566.9 256.7,566.6 258.3,566.5 260.0,566.6 261.7,566.3 263.3,566.5 265.0,566.0 266.7,565.9 268.3,566.3 270.0,566.2 271.7,566.4 273.3,565.8 275.0,565.8 276.7,565.8 278.3,566.4 280.0,566.1 281.7,566.1 283.3,566.3 285.0,566.3 286.8,565.6 288.7,565.5 290.5,565.9 292.3,565.4 294.2,565.4 296.0,565.2 297.8,565.6 299.5,565.2 301.2,565.7 303.0,565.5 304.8,565.8 306.5,565.6 308.2,565.8 310.0,566.0 311.6,566.1 313.3,566.3 314.9,566.4 316.6,566.2 318.2,565.9 319.9,566.4 321.5,566.2 323.2,566.8 324.8,566.5" stroke="#00ff00" stroke-width="3.3" fill="none" stroke-linejoin="round" stroke-linecap="round"/>
<rect x="30.2" y="356.3" width="294.6" height="214.1" stroke="#444" stroke-width="1.1" fill="none"/>
<text transform="translate(25.43 573.79) scale(0.8635 0.7992)" font-size="10" text-anchor="end">0</text>
<text transform="translate(25.43 550.00) scale(0.8635 0.7992)" font-size="10" text-anchor="end">0.1</text>
<text transform="translate(25.43 526.21) scale(0.8635 0.7992)" font-size="10" text-anchor="end">0.2</text>
<text transform="translate(25.43 502.42) scale(0.8635 0.7992)" font-size="10" text-anchor="end">0.3</text>
<text transform="translate(25.43 478.63) scale(0.8635 0.7992)" font-size="10" text-anchor="end">0.4</text>
<text transform="translate(25.43 454.84) scale(0.8635 0.7992)" font-size="10" text-anchor="end">0.5</text>
<text transform="translate(25.43 431.05) scale(0.8635 0.7992)" font-size="10" text-anchor="end">0.6</text>
<text transform="translate(25.43 407.26) scale(0.8635 0.7992)" font-size="10" text-anchor="end">0.7</text>
<text transform="translate(25.43 383.47) scale(0.8635 0.7992)" font-size="10" text-anchor="end">0.8</text>
<text transform="translate(25.43 359.69) scale(0.8635 0.7992)" font-size="10" text-anchor="end">0.9</text>
<text transform="translate(30.20 582.21) scale(0.8635 0.7992)" font-size="10" text-anchor="middle">0</text>
<text transform="translate(59.66 582.21) scale(0.8635 0.7992)" font-size="10" text-anchor="middle">10</text>
<text transform="translate(89.12 582.21) scale(0.8635 0.7992)" font-size="10" text-anchor="middle">20</text>
<text transform="translate(118.58 582.21) scale(0.8635 0.7992)" font-size="10" text-anchor="middle">30</text>
<text transform="translate(148.04 582.21) scale(0.8635 0.7992)" font-size="10" text-anchor="middle">40</text>
<text transform="translate(177.50 582.21) scale(0.8635 0.7992)" font-size="10" text-anchor="middle">50</text>
<text transform="translate(206.96 582.21) scale(0.8635 0.7992)" font-size="10" text-anchor="middle">60</text>
<text transform="translate(236.42 582.21) scale(0.8635 0.7992)" font-size="10" text-anchor="middle">70</text>
<text transform="translate(265.88 582.21) scale(0.8635 0.7992)" font-size="10" text-anchor="middle">80</text>
<text transform="translate(295.34 582.21) scale(0.8635 0.7992)" font-size="10" text-anchor="middle">90</text>
<text transform="translate(324.80 582.21) scale(0.8635 0.7992)" font-size="10" text-anchor="middle">100</text>
<text transform="translate(176.90 594.54) scale(0.9559 0.8847)" font-size="10" text-anchor="middle">Time (days),h=0.01</text>
<text transform="translate(7.60 463.55) rotate(-90) scale(0.8922 0.9641)" font-size="10" text-anchor="middle">Sub Populations</text>
<text transform="translate(24.50 352.38) scale(0.9732 0.9007)" font-size="10" class="ttl" textLength="312.27" lengthAdjust="spacingAndGlyphs">Stochastic Runge Kutta-Corona Virus Existing Equilibrium(CVEE)</text>
<rect x="199.0" y="408.0" width="70.0" height="33.0" stroke="#5a5a5a" stroke-width="0.9" fill="#fff"/>
<path d="M201.4 414.0H221.9" stroke="#ff0000" stroke-width="2.5"/>
<text transform="translate(223.79 416.58) scale(0.7975 0.7380)" font-size="10">Susceptible</text>
<path d="M201.4 424.3H221.9" stroke="#0000ff" stroke-width="2.5"/>
<text transform="translate(223.79 426.81) scale(0.7975 0.7380)" font-size="10">Infected</text>
<path d="M201.4 434.5H221.9" stroke="#00ff00" stroke-width="2.5"/>
<text transform="translate(223.79 437.05) scale(0.7975 0.7380)" font-size="10">Recovered</text>
<path d="M429.4 359.6V570.4M455.1 359.6V570.4M480.8 359.6V570.4M506.5 359.6V570.4M532.1 359.6V570.4M557.8 359.6V570.4M583.5 359.6V570.4M609.2 359.6V570.4M634.9 359.6V570.4M403.7 540.3H660.6M403.7 510.2H660.6M403.7 480.1H660.6M403.7 449.9H660.6M403.7 419.8H660.6M403.7 389.7H660.6" stroke="#ebebeb" stroke-width="1" fill="none"/>
<path d="M403.7 570.4v-2.6M403.7 359.6v2.6M429.4 570.4v-2.6M429.4 359.6v2.6M455.1 570.4v-2.6M455.1 359.6v2.6M480.8 570.4v-2.6M480.8 359.6v2.6M506.5 570.4v-2.6M506.5 359.6v2.6M532.1 570.4v-2.6M532.1 359.6v2.6M557.8 570.4v-2.6M557.8 359.6v2.6M583.5 570.4v-2.6M583.5 359.6v2.6M609.2 570.4v-2.6M609.2 359.6v2.6M634.9 570.4v-2.6M634.9 359.6v2.6M660.6 570.4v-2.6M660.6 359.6v2.6M403.7 570.4h2.7M660.6 570.4h-2.7M403.7 540.3h2.7M660.6 540.3h-2.7M403.7 510.2h2.7M660.6 510.2h-2.7M403.7 480.1h2.7M660.6 480.1h-2.7M403.7 449.9h2.7M660.6 449.9h-2.7M403.7 419.8h2.7M660.6 419.8h-2.7M403.7 389.7h2.7M660.6 389.7h-2.7M403.7 359.6h2.7M660.6 359.6h-2.7" stroke="#444" stroke-width="0.9" fill="none"/>
<polyline points="403.7,515.3 408.2,505.1 413.4,502.0 418.5,499.9 423.7,494.8 428.8,505.1 434.0,504.0 438.1,500.9 443.2,499.5 448.4,492.7 453.1,485.9 457.6,485.9 462.8,492.7 467.5,486.5 472.0,490.0 477.2,484.5 481.9,474.2 486.4,437.2 491.6,392.9 496.2,377.2 501.2,435.1 506.3,437.2 511.3,428.5 516.6,435.1 521.2,459.2 526.3,456.7 531.0,454.2 536.0,461.2 540.7,461.2 545.4,463.5 550.0,462.9 555.1,467.0 560.2,471.1 564.8,474.8 569.5,467.0 574.5,459.8 579.3,461.2 584.4,469.5 589.5,472.8 594.3,481.4 598.8,471.7 604.0,488.0 608.7,494.2 613.6,490.7 618.4,472.1 623.5,469.7 628.6,474.2 633.4,488.6 637.9,472.1 643.0,478.3 647.8,477.7 652.3,470.7 657.4,483.9" stroke="#ff0000" stroke-width="3.0" fill="none" stroke-linejoin="round" stroke-linecap="round"/>
<polyline points="403.7,510.2 408.2,512.3 413.4,515.3 418.5,521.5 423.7,508.1 428.2,468.0 432.9,512.3 438.1,512.3 442.8,523.6 448.4,533.9 453.1,529.8 457.6,526.7 462.8,532.8 467.5,531.4 472.4,534.9 478.2,537.4 484.4,539.4 490.5,540.6 500.0,540.7 540.0,540.6 600.0,540.6 640.0,540.5 650.0,540.2 657.4,539.6" stroke="#0000ff" stroke-width="3.0" fill="none" stroke-linejoin="round" stroke-linecap="round"/>
<polyline points="403.7,534.9 408.2,536.5 413.4,537.4 418.5,537.8 422.6,537.4 427.8,533.9 432.9,533.9 438.1,535.9 443.2,535.3 447.7,526.3 452.5,534.9 457.6,537.4 462.8,533.9 467.5,537.0 472.4,533.9 477.2,529.8 481.9,512.3 486.2,458.8 491.2,406.3 496.5,415.6 501.2,490.0 506.3,489.6 511.3,475.2 516.6,487.6 521.2,522.1 525.7,502.0 531.0,505.7 535.6,520.5 540.7,513.3 545.4,520.5 550.4,514.7 555.1,527.7 560.7,531.8 564.8,530.8 570.1,538.0 574.7,540.0 600.0,540.4 630.0,540.5 657.4,540.3" stroke="#00ff00" stroke-width="3.0" fill="none" stroke-linejoin="round" stroke-linecap="round"/>
<rect x="403.7" y="359.6" width="256.9" height="210.8" stroke="#444" stroke-width="1.1" fill="none"/>
<text transform="translate(399.54 573.73) scale(0.7530 0.7868)" font-size="10" text-anchor="end">-0.5</text>
<text transform="translate(399.54 543.62) scale(0.7530 0.7868)" font-size="10" text-anchor="end">0</text>
<text transform="translate(399.54 513.50) scale(0.7530 0.7868)" font-size="10" text-anchor="end">0.5</text>
<text transform="translate(399.54 483.39) scale(0.7530 0.7868)" font-size="10" text-anchor="end">1</text>
<text transform="translate(399.54 453.28) scale(0.7530 0.7868)" font-size="10" text-anchor="end">1.5</text>
<text transform="translate(399.54 423.16) scale(0.7530 0.7868)" font-size="10" text-anchor="end">2</text>
<text transform="translate(399.54 393.05) scale(0.7530 0.7868)" font-size="10" text-anchor="end">2.5</text>
<text transform="translate(399.54 362.93) scale(0.7530 0.7868)" font-size="10" text-anchor="end">3</text>
<text transform="translate(403.70 582.62) scale(0.7530 0.7868)" font-size="10" text-anchor="middle">0</text>
<text transform="translate(429.39 582.62) scale(0.7530 0.7868)" font-size="10" text-anchor="middle">10</text>
<text transform="translate(455.08 582.62) scale(0.7530 0.7868)" font-size="10" text-anchor="middle">20</text>
<text transform="translate(480.77 582.62) scale(0.7530 0.7868)" font-size="10" text-anchor="middle">30</text>
<text transform="translate(506.46 582.62) scale(0.7530 0.7868)" font-size="10" text-anchor="middle">40</text>
<text transform="translate(532.15 582.62) scale(0.7530 0.7868)" font-size="10" text-anchor="middle">50</text>
<text transform="translate(557.84 582.62) scale(0.7530 0.7868)" font-size="10" text-anchor="middle">60</text>
<text transform="translate(583.53 582.62) scale(0.7530 0.7868)" font-size="10" text-anchor="middle">70</text>
<text transform="translate(609.22 582.62) scale(0.7530 0.7868)" font-size="10" text-anchor="middle">80</text>
<text transform="translate(634.91 582.62) scale(0.7530 0.7868)" font-size="10" text-anchor="middle">90</text>
<text transform="translate(660.60 582.62) scale(0.7530 0.7868)" font-size="10" text-anchor="middle">100</text>
<text transform="translate(531.55 594.87) scale(0.8336 0.8711)" font-size="10" text-anchor="middle">Time (days),h=2</text>
<text transform="translate(381.60 465.20) rotate(-90) scale(0.8785 0.8407)" font-size="10" text-anchor="middle">Sub Populations</text>
<text transform="translate(399.03 355.83) scale(0.8487 0.8868)" font-size="10" class="ttl" textLength="311.67" lengthAdjust="spacingAndGlyphs">Stochastic Runge Kutta-Corona Virus Existing Equilibrium(CVEE)</text>
<rect x="591.6" y="368.2" width="61.0" height="32.5" stroke="#5a5a5a" stroke-width="0.9" fill="#fff"/>
<path d="M593.7 374.1H611.5" stroke="#ff0000" stroke-width="2.4"/>
<text transform="translate(613.22 376.65) scale(0.6954 0.7267)" font-size="10">Susceptible</text>
<path d="M593.7 384.2H611.5" stroke="#0000ff" stroke-width="2.4"/>
<text transform="translate(613.22 386.72) scale(0.6954 0.7267)" font-size="10">Infected</text>
<path d="M593.7 394.3H611.5" stroke="#00ff00" stroke-width="2.4"/>
<text transform="translate(613.22 396.80) scale(0.6954 0.7267)" font-size="10">Recovered</text>
<path d="M56.2 679.0V903.5M84.4 679.0V903.5M112.7 679.0V903.5M140.9 679.0V903.5M169.2 679.0V903.5M197.5 679.0V903.5M225.7 679.0V903.5M254.0 679.0V903.5M282.2 679.0V903.5M27.9 875.4H310.5M27.9 847.4H310.5M27.9 819.3H310.5M27.9 791.2H310.5M27.9 763.2H310.5M27.9 735.1H310.5M27.9 707.1H310.5" stroke="#ebebeb" stroke-width="1" fill="none"/>
<path d="M27.9 903.5v-2.8M27.9 679.0v2.8M56.2 903.5v-2.8M56.2 679.0v2.8M84.4 903.5v-2.8M84.4 679.0v2.8M112.7 903.5v-2.8M112.7 679.0v2.8M140.9 903.5v-2.8M140.9 679.0v2.8M169.2 903.5v-2.8M169.2 679.0v2.8M197.5 903.5v-2.8M197.5 679.0v2.8M225.7 903.5v-2.8M225.7 679.0v2.8M254.0 903.5v-2.8M254.0 679.0v2.8M282.2 903.5v-2.8M282.2 679.0v2.8M310.5 903.5v-2.8M310.5 679.0v2.8M27.9 903.5h2.9M310.5 903.5h-2.9M27.9 875.4h2.9M310.5 875.4h-2.9M27.9 847.4h2.9M310.5 847.4h-2.9M27.9 819.3h2.9M310.5 819.3h-2.9M27.9 791.2h2.9M310.5 791.2h-2.9M27.9 763.2h2.9M310.5 763.2h-2.9M27.9 735.1h2.9M310.5 735.1h-2.9M27.9 707.1h2.9M310.5 707.1h-2.9M27.9 679.0h2.9M310.5 679.0h-2.9" stroke="#444" stroke-width="0.9" fill="none"/>
<polyline points="27.2,790.2 27.3,788.8 27.4,787.4 27.4,784.8 27.5,782.9 27.6,781.7 27.7,779.6 27.8,778.4 27.9,777.2 27.9,774.7 28.0,774.0 28.1,771.8 28.2,770.2 28.3,769.3 28.4,766.9 28.4,764.6 28.5,763.4 28.6,762.2 28.8,759.9 28.9,757.8 29.1,756.8 29.2,755.2 29.4,753.1 29.5,752.1 29.7,749.5 29.9,748.4 30.0,747.4 30.2,745.9 30.3,743.9 30.5,742.5 30.6,740.4 30.8,737.9 31.0,736.6 31.2,735.3 31.4,732.4 31.6,732.1 31.8,730.4 32.0,727.3 32.2,726.4 32.4,724.7 32.6,723.0 32.8,720.4 33.0,720.0 33.4,717.3 33.9,715.4 34.3,714.7 34.7,712.8 35.1,710.6 35.6,709.4 36.0,707.2 36.7,705.7 37.5,705.5 38.2,702.7 38.9,701.9 39.6,700.8 40.3,697.5 41.1,695.9 41.8,694.8 43.6,693.5 45.4,692.3 47.6,692.4 49.8,691.2 52.0,690.7 54.2,691.1 56.4,689.9 58.6,690.8 60.1,692.4 61.5,693.7 63.0,695.2 64.8,693.0 66.6,693.5 68.4,691.5 70.3,690.1 72.0,691.3 73.7,690.3 75.4,691.8 77.2,692.0 79.0,693.1 81.2,694.9 83.4,694.6 85.2,695.1 87.0,693.5 88.8,692.8 90.7,690.9 92.2,690.8 93.6,689.2 95.1,688.7 97.3,688.6 99.5,689.3 101.2,688.4 102.9,687.4 104.6,685.2 106.8,686.3 108.9,686.6 110.6,685.9 112.3,684.0 114.0,683.5 115.5,684.8 117.0,685.7 118.0,687.2 118.9,688.6 119.9,690.5 120.9,689.2 121.8,688.1 122.8,685.2 125.0,685.5 126.9,684.5 128.8,685.1 130.7,685.0 132.7,687.1 134.6,686.8 136.4,686.2 138.2,684.6 140.4,684.1 142.6,684.5 143.6,685.5 144.5,686.9 145.5,688.4 147.2,688.7 149.0,689.1 150.7,691.0 152.1,689.8 153.6,688.4 155.0,686.7 156.8,688.4 158.7,688.0 160.4,687.6 162.1,685.6 163.8,685.4 165.2,687.3 166.7,687.6 168.9,686.8 171.1,687.4 172.6,688.2 174.0,688.5 175.5,689.0 176.9,691.5 178.4,693.3 179.6,691.3 180.8,690.2 182.0,689.0 183.7,688.9 185.5,690.1 187.2,689.5 189.3,689.5 191.5,688.2 193.7,688.5 195.9,687.8 197.4,688.3 198.8,689.2 200.3,689.8 202.1,689.7 203.9,687.5 205.6,688.6 207.3,689.3 209.0,689.7 210.5,690.3 211.9,691.5 213.4,692.1 215.6,690.6 217.8,691.0 219.3,688.9 220.8,689.1 221.8,690.1 222.8,692.0 223.8,692.6 225.5,692.2 227.2,691.9 228.9,692.6 230.6,692.9 232.3,693.1 234.0,694.9 235.7,694.5 237.4,695.7 239.1,696.0 240.6,695.3 242.0,693.8 243.5,691.8 245.2,692.4 246.9,693.6 248.6,693.3 250.5,693.1 252.5,693.4 254.4,693.6 255.9,691.3 257.3,689.9 258.8,688.5 260.2,690.4 261.7,692.2 263.2,690.8 264.6,690.9 266.1,689.8 267.6,688.7 269.0,686.0 270.4,685.1 271.9,685.1 273.4,686.1 274.9,687.3 276.1,688.8 277.3,688.8 278.5,690.5 279.9,688.7 281.4,687.9 283.6,689.9 285.1,689.3 286.5,689.2 288.0,688.9 289.5,686.8 290.9,687.3 292.4,685.3 293.9,686.0 295.3,688.2 296.8,687.5 299.0,687.3 301.1,687.4 302.3,686.1 303.6,684.8 304.8,682.9 306.2,684.4 307.7,685.7 309.1,687.3 310.5,688.2" stroke="#ff0000" stroke-width="3.3" fill="none" stroke-linejoin="round" stroke-linecap="round"/>
<polyline points="27.6,762.9 27.9,764.4 28.1,765.5 28.4,767.4 28.6,769.5 28.9,771.7 29.1,772.8 29.4,774.6 29.6,775.7 29.9,777.8 30.1,779.1 30.4,781.6 30.6,782.5 30.9,784.5 31.1,785.3 31.4,787.1 31.6,789.1 32.0,791.0 32.3,792.5 32.6,793.4 33.0,796.3 33.7,797.8 34.5,798.7 35.2,800.4 35.9,802.1 36.7,803.5 37.4,806.3 38.5,807.2 39.6,810.3 42.5,808.5 44.7,809.1 46.9,808.9 49.1,808.0 51.3,809.2 53.1,807.5 54.9,807.3 56.8,806.0 58.6,804.8 60.4,806.0 62.2,807.3 64.1,808.1 65.9,808.9 67.3,808.0 68.8,806.8 70.6,805.9 72.4,804.9 74.6,804.5 76.8,804.5 78.2,805.2 79.7,806.2 80.8,809.1 81.8,809.4 82.9,811.8 84.3,813.0 85.8,815.0 87.3,815.9 88.7,816.4 90.2,817.7 92.1,819.1 93.9,820.4 95.7,820.8 97.5,821.1 99.3,822.4 101.2,824.0 102.6,822.1 104.1,822.6 105.5,821.4 107.3,822.1 109.2,822.1 110.7,821.2 112.1,820.2 113.5,818.8 115.0,819.3 116.5,819.7 118.0,820.6 119.0,822.2 119.9,824.0 120.9,824.6 122.3,824.0 123.8,823.3 125.2,822.8 126.7,821.6 128.2,821.3 129.6,821.2 131.8,821.5 134.0,821.4 135.5,820.1 136.9,819.4 138.4,819.8 139.9,817.4 141.3,817.0 142.8,814.4 144.6,815.5 146.4,817.3 148.6,816.7 150.1,817.8 151.5,820.1 152.6,818.3 153.7,817.1 155.9,817.7 158.1,818.2 159.4,818.4 160.6,817.2 161.9,815.5 163.2,815.0 165.1,814.4 166.9,815.6 168.2,814.5 169.4,813.2 170.7,812.9 172.0,812.0 173.8,811.9 175.6,811.4 176.8,812.9 177.9,815.1 179.1,816.0 181.1,815.7 183.2,814.6 184.9,815.8 186.6,815.4 188.3,815.6 189.8,815.8 191.4,815.7 192.9,815.0 194.4,813.4 196.1,814.8 197.8,815.2 199.5,815.3 200.8,813.9 202.1,812.9 203.3,812.4 204.6,811.0 206.3,810.1 208.0,809.0 209.7,807.7 211.8,808.4 213.8,809.6 215.9,809.7 217.2,808.7 218.4,806.6 219.7,805.5 221.0,804.9 222.8,804.0 224.6,804.1 226.3,804.4 228.1,804.5 230.2,802.9 232.2,802.9 234.3,803.1 235.8,804.1 237.4,804.9 238.9,807.3 240.4,808.0 242.4,807.9 244.5,807.0 245.7,807.0 246.9,809.1 248.2,808.8 249.4,810.1 250.6,811.2 251.9,813.3 253.1,814.0 254.4,815.8 255.7,815.9 257.8,815.5 259.8,815.1 261.2,816.1 262.5,817.8 263.9,819.5 265.6,818.7 267.3,819.4 269.0,820.5 270.4,818.1 271.7,817.5 273.1,814.8 275.1,815.9 277.2,816.7 279.2,817.7 281.3,817.4 282.8,818.3 284.4,819.6 285.9,820.1 287.4,820.9 289.4,822.1 291.5,822.1 293.5,820.8 295.1,821.3 296.6,821.6 298.1,822.5 299.7,823.2 301.2,821.8 302.8,821.1 304.3,820.0 305.8,819.1 307.4,819.0 308.9,819.6 310.5,820.7" stroke="#0000ff" stroke-width="3.3" fill="none" stroke-linejoin="round" stroke-linecap="round"/>
<polyline points="27.6,875.5 27.9,877.1 28.2,878.7 28.5,880.4 28.8,882.0 29.1,883.9 29.4,886.1 30.2,887.6 31.1,889.2 31.9,891.0 32.7,892.9 34.5,894.0 36.3,895.4 38.1,896.1 39.8,896.5 41.4,896.6 43.0,896.3 44.7,896.3 46.3,896.2 48.0,896.6 49.6,896.9 51.3,896.7 52.9,896.4 54.5,896.7 56.1,896.7 57.7,896.4 59.3,896.7 60.9,896.9 62.5,896.8 64.2,896.8 65.8,896.7 67.4,896.7 69.0,896.4 70.6,896.2 72.2,896.4 73.8,896.2 75.4,896.1 77.2,896.9 79.0,897.1 80.8,897.2 82.7,897.5 84.5,897.6 86.3,898.1 88.0,897.9 89.7,897.9 91.4,898.2 93.1,898.1 94.8,898.2 96.5,898.0 98.2,898.2 99.9,898.2 101.6,898.0 103.2,898.5 104.8,898.4 106.4,898.1 108.0,898.6 109.6,898.5 111.2,898.1 112.8,898.6 114.4,898.7 116.0,898.3 117.6,898.6 119.2,898.7 120.9,898.1 122.6,898.6 124.3,898.3 126.0,898.4 127.7,898.2 129.4,898.2 131.1,898.1 132.8,898.2 134.5,897.8 136.2,897.5 137.9,897.8 139.6,897.8 141.2,897.8 142.9,897.6 144.6,897.3 146.3,897.4 148.0,897.3 149.7,897.4 151.3,897.6 153.0,897.6 154.7,897.8 156.4,897.5 158.1,897.7 159.8,897.2 161.5,897.7 163.2,897.3 164.9,897.4 166.5,897.2 168.2,897.3 169.9,897.8 171.6,897.7 173.3,897.1 175.0,897.4 176.7,897.8 178.3,897.6 180.0,897.5 181.7,897.4 183.3,897.5 185.0,897.4 186.7,897.4 188.3,897.4 190.0,897.6 191.7,897.5 193.3,897.8 195.0,897.7 196.7,897.2 198.3,897.8 200.0,897.3 201.7,897.8 203.3,897.8 205.0,897.5 206.7,897.3 208.3,897.3 210.0,897.5 211.7,897.6 213.3,897.6 215.0,897.4 216.7,897.6 218.3,897.4 220.0,897.3 221.7,897.5 223.3,897.0 225.0,897.2 226.7,897.0 228.3,896.8 230.0,897.2 231.7,896.7 233.3,896.6 235.0,896.4 236.7,896.5 238.3,896.9 240.0,896.4 241.7,896.9 243.3,896.6 245.0,896.8 246.7,896.9 248.3,896.3 250.0,896.2 251.7,896.4 253.3,896.2 255.0,896.5 256.7,896.5 258.3,896.2 260.0,896.1 261.7,896.7 263.3,896.6 265.0,896.6 266.7,896.9 268.3,896.7 270.0,896.7 271.7,896.8 273.3,897.0 275.0,897.3 276.7,897.3 278.3,897.6 280.0,897.6 281.7,897.9 283.3,897.3 285.0,897.5 286.7,897.7 288.3,897.7 290.0,897.7 291.7,897.9 293.3,897.6 295.0,897.7 296.7,898.1 298.3,897.7 300.0,898.0 301.8,898.1 303.5,897.9 305.2,897.7 307.0,897.7 308.8,897.7 310.5,897.5" stroke="#00ff00" stroke-width="3.3" fill="none" stroke-linejoin="round" stroke-linecap="round"/>
<rect x="27.9" y="679.0" width="282.6" height="224.5" stroke="#444" stroke-width="1.1" fill="none"/>
<text transform="translate(23.32 907.05) scale(0.8283 0.8380)" font-size="10" text-anchor="end">0</text>
<text transform="translate(23.32 878.99) scale(0.8283 0.8380)" font-size="10" text-anchor="end">0.1</text>
<text transform="translate(23.32 850.93) scale(0.8283 0.8380)" font-size="10" text-anchor="end">0.2</text>
<text transform="translate(23.32 822.86) scale(0.8283 0.8380)" font-size="10" text-anchor="end">0.3</text>
<text transform="translate(23.32 794.80) scale(0.8283 0.8380)" font-size="10" text-anchor="end">0.4</text>
<text transform="translate(23.32 766.74) scale(0.8283 0.8380)" font-size="10" text-anchor="end">0.5</text>
<text transform="translate(23.32 738.68) scale(0.8283 0.8380)" font-size="10" text-anchor="end">0.6</text>
<text transform="translate(23.32 710.61) scale(0.8283 0.8380)" font-size="10" text-anchor="end">0.7</text>
<text transform="translate(23.32 682.55) scale(0.8283 0.8380)" font-size="10" text-anchor="end">0.8</text>
<text transform="translate(27.90 916.38) scale(0.8283 0.8380)" font-size="10" text-anchor="middle">0</text>
<text transform="translate(56.16 916.38) scale(0.8283 0.8380)" font-size="10" text-anchor="middle">10</text>
<text transform="translate(84.42 916.38) scale(0.8283 0.8380)" font-size="10" text-anchor="middle">20</text>
<text transform="translate(112.68 916.38) scale(0.8283 0.8380)" font-size="10" text-anchor="middle">30</text>
<text transform="translate(140.94 916.38) scale(0.8283 0.8380)" font-size="10" text-anchor="middle">40</text>
<text transform="translate(169.20 916.38) scale(0.8283 0.8380)" font-size="10" text-anchor="middle">50</text>
<text transform="translate(197.46 916.38) scale(0.8283 0.8380)" font-size="10" text-anchor="middle">60</text>
<text transform="translate(225.72 916.38) scale(0.8283 0.8380)" font-size="10" text-anchor="middle">70</text>
<text transform="translate(253.98 916.38) scale(0.8283 0.8380)" font-size="10" text-anchor="middle">80</text>
<text transform="translate(282.24 916.38) scale(0.8283 0.8380)" font-size="10" text-anchor="middle">90</text>
<text transform="translate(310.50 916.38) scale(0.8283 0.8380)" font-size="10" text-anchor="middle">100</text>
<text transform="translate(168.60 929.61) scale(0.9170 0.9277)" font-size="10" text-anchor="middle">Time (days),h=0.01</text>
<text transform="translate(6.90 791.45) rotate(-90) scale(0.9356 0.9248)" font-size="10" text-anchor="middle">Sub Populations</text>
<text transform="translate(37.81 675.52) scale(0.9336 0.9444)" font-size="10" class="ttl" textLength="280.11" lengthAdjust="spacingAndGlyphs">Stochastic NSFD-Corona Virus Existing Equilibrium(CVEE)</text>
<rect x="185.3" y="730.3" width="67.1" height="34.6" stroke="#5a5a5a" stroke-width="0.9" fill="#fff"/>
<path d="M187.6 736.6H207.2" stroke="#ff0000" stroke-width="2.6"/>
<text transform="translate(209.08 739.30) scale(0.7650 0.7739)" font-size="10">Susceptible</text>
<path d="M187.6 747.4H207.2" stroke="#0000ff" stroke-width="2.6"/>
<text transform="translate(209.08 750.03) scale(0.7650 0.7739)" font-size="10">Infected</text>
<path d="M187.6 758.1H207.2" stroke="#00ff00" stroke-width="2.6"/>
<text transform="translate(209.08 760.76) scale(0.7650 0.7739)" font-size="10">Recovered</text>
<path d="M419.3 679.4V903.3M443.2 679.4V903.3M467.1 679.4V903.3M491.0 679.4V903.3M514.9 679.4V903.3M538.8 679.4V903.3M562.7 679.4V903.3M586.6 679.4V903.3M610.5 679.4V903.3M395.4 880.9H634.4M395.4 858.5H634.4M395.4 836.1H634.4M395.4 813.7H634.4M395.4 791.3H634.4M395.4 769.0H634.4M395.4 746.6H634.4M395.4 724.2H634.4M395.4 701.8H634.4" stroke="#ebebeb" stroke-width="1" fill="none"/>
<path d="M395.4 903.3v-2.7M395.4 679.4v2.7M419.3 903.3v-2.7M419.3 679.4v2.7M443.2 903.3v-2.7M443.2 679.4v2.7M467.1 903.3v-2.7M467.1 679.4v2.7M491.0 903.3v-2.7M491.0 679.4v2.7M514.9 903.3v-2.7M514.9 679.4v2.7M538.8 903.3v-2.7M538.8 679.4v2.7M562.7 903.3v-2.7M562.7 679.4v2.7M586.6 903.3v-2.7M586.6 679.4v2.7M610.5 903.3v-2.7M610.5 679.4v2.7M634.4 903.3v-2.7M634.4 679.4v2.7M395.4 903.3h2.5M634.4 903.3h-2.5M395.4 880.9h2.5M634.4 880.9h-2.5M395.4 858.5h2.5M634.4 858.5h-2.5M395.4 836.1h2.5M634.4 836.1h-2.5M395.4 813.7h2.5M634.4 813.7h-2.5M395.4 791.3h2.5M634.4 791.3h-2.5M395.4 769.0h2.5M634.4 769.0h-2.5M395.4 746.6h2.5M634.4 746.6h-2.5M395.4 724.2h2.5M634.4 724.2h-2.5M395.4 701.8h2.5M634.4 701.8h-2.5M395.4 679.4h2.5M634.4 679.4h-2.5" stroke="#444" stroke-width="0.9" fill="none"/>
<polyline points="395.3,813.8 395.3,811.9 395.4,810.5 395.4,808.9 395.4,807.1 395.5,805.9 395.5,804.1 395.5,802.3 395.6,800.8 395.6,799.0 395.6,797.4 395.7,795.9 395.7,794.3 395.7,792.4 395.8,791.3 395.8,789.2 395.8,787.9 395.9,786.0 395.9,784.4 395.9,783.2 396.0,781.4 396.0,779.8 396.0,777.8 396.1,776.4 396.1,774.6 396.1,773.0 396.2,771.9 396.2,770.2 396.2,768.7 396.3,766.6 396.3,765.0 396.3,763.8 396.4,761.9 396.4,760.1 396.4,758.4 396.5,757.0 396.5,755.5 397.2,753.4 397.8,752.1 398.5,750.3 399.6,748.9 400.7,747.2 401.8,745.9 402.0,744.5 402.2,742.4 402.4,740.8 402.6,739.0 402.8,737.4 403.1,735.7 403.3,733.9 403.5,732.2 403.7,731.1 403.9,729.1 404.1,727.2 404.9,725.7 405.6,724.3 406.4,723.0 406.7,724.5 407.0,726.1 407.3,727.5 407.6,729.3 407.9,730.7 408.2,732.4 408.5,733.9 408.8,735.8 409.2,733.8 409.6,731.9 410.0,730.5 410.5,729.2 410.9,727.4 411.3,725.8 411.7,723.8 412.3,722.0 412.9,719.9 413.4,718.2 414.0,716.2 416.4,718.1 417.0,716.1 417.5,714.7 418.1,713.0 418.7,710.8 420.1,712.8 421.6,714.4 421.8,716.4 422.0,718.2 422.3,719.4 422.5,721.3 422.7,722.7 422.9,724.4 423.1,726.2 423.3,728.3 423.6,729.6 423.8,731.6 424.0,733.1 424.9,731.6 425.7,729.7 427.1,730.5 428.6,732.0 428.8,734.0 429.0,735.2 429.3,737.0 429.5,738.7 429.7,740.0 429.9,742.0 430.2,743.8 430.4,745.4 430.6,746.9 430.8,749.0 431.1,750.0 431.3,752.2 431.5,753.8 431.8,752.1 432.2,750.1 432.5,748.6 432.9,746.4 433.2,745.3 433.6,743.4 433.9,741.3 434.5,739.6 435.1,738.3 435.8,736.6 436.4,734.8 437.3,736.8 438.2,738.4 439.1,740.0 439.4,741.7 439.7,743.1 440.0,745.2 440.3,746.9 440.6,748.3 440.9,750.1 441.2,751.4 441.5,752.8 442.9,755.1 444.4,756.8 444.7,754.9 444.9,753.6 445.2,751.5 445.5,750.0 445.7,748.5 446.0,747.1 446.2,745.7 446.5,743.6 446.8,741.9 447.0,740.4 447.3,738.7 447.6,740.7 447.8,742.3 448.1,744.3 448.4,745.6 448.6,747.4 448.9,748.9 449.1,751.0 449.4,752.9 449.7,754.5 449.9,756.3 450.2,757.5 450.7,756.1 451.2,754.4 451.8,753.0 452.3,751.9 453.4,753.2 454.5,754.4 455.3,752.9 456.0,750.6 456.8,748.9 456.9,747.0 457.1,745.3 457.2,744.0 457.4,742.4 457.5,740.9 457.6,739.0 457.8,737.2 457.9,735.9 458.0,734.3 458.2,732.3 458.3,731.2 458.4,729.4 458.6,728.0 458.7,726.3 458.9,724.1 459.0,722.9 460.1,721.7 461.3,719.9 462.1,721.6 462.8,723.2 463.6,725.4 465.8,722.7 467.2,724.2 468.7,726.1 469.0,724.7 469.2,723.0 469.5,721.2 469.8,720.0 470.1,718.4 470.3,716.6 470.6,714.5 470.9,713.2 473.7,712.7 474.1,714.1 474.6,715.9 475.0,717.8 475.4,719.5 475.8,720.9 476.2,722.9 476.7,724.3 477.1,726.5 477.8,724.2 478.6,722.4 479.3,720.5 480.0,718.5 480.9,717.2 481.9,715.6 482.8,713.5 483.1,715.3 483.4,716.7 483.7,718.7 484.0,720.4 484.2,721.7 484.5,723.4 484.8,725.3 485.1,726.7 485.5,725.6 485.8,724.0 486.1,722.4 486.5,720.3 486.9,718.7 487.2,717.5 487.5,716.1 487.9,714.1 488.1,715.7 488.3,717.3 488.5,719.6 488.6,721.1 488.8,722.5 489.0,724.5 489.2,725.7 489.4,727.8 489.6,729.3 489.8,731.0 490.0,732.6 490.1,734.0 490.3,736.2 490.5,737.5 490.7,739.5 490.9,740.6 491.2,738.9 491.5,737.6 491.8,735.6 492.1,733.4 492.4,731.7 492.7,730.2 493.0,728.5 493.2,726.9 493.3,724.7 493.5,723.6 493.6,721.8 493.8,720.3 493.9,718.3 494.1,716.6 494.3,715.1 494.4,712.9 494.6,711.3 494.7,709.7 494.9,708.4 495.0,706.2 495.2,704.7 496.0,702.8 496.7,701.0 497.5,699.7 497.8,701.0 498.0,703.1 498.3,704.0 498.5,706.1 498.8,707.5 499.0,709.0 499.3,710.8 499.5,712.7 499.8,713.7 500.0,715.5 500.3,717.4 501.0,715.5 501.7,713.4 502.4,711.9 503.1,709.8 504.1,711.5 505.0,712.8 506.0,714.0 506.7,712.5 507.5,711.0 508.2,709.1 508.7,710.6 509.2,712.3 509.7,714.2 510.1,715.8 510.6,717.4 511.1,719.4 511.6,721.2 512.3,719.7 513.0,717.7 513.6,716.1 514.3,714.5 515.0,713.3 515.3,714.6 515.6,716.4 515.9,718.3 516.1,719.9 516.4,721.8 516.7,723.5 517.0,725.3 517.3,727.2 517.5,729.2 517.7,730.9 517.9,732.4 518.1,734.1 518.4,736.2 518.6,738.3 518.8,739.5 519.0,741.4 520.1,742.8 521.2,744.9 521.6,746.3 522.0,747.9 522.5,749.8 522.9,750.9 523.7,752.7 524.4,754.5 525.2,756.3 525.5,754.6 525.8,753.0 526.0,751.1 526.3,749.8 526.6,748.2 526.9,746.5 527.1,744.8 527.4,743.2 527.7,741.5 528.0,740.0 528.2,738.1 528.5,736.1 528.8,734.4 529.1,733.1 529.3,731.4 529.6,729.4 529.8,727.5 530.1,726.1 530.3,724.0 530.6,722.4 530.8,720.8 533.1,718.1 533.5,720.0 533.9,722.1 534.3,723.5 534.7,725.7 535.1,727.5 535.8,729.0 536.5,731.4 536.9,729.7 537.4,727.7 537.8,725.5 538.2,723.6 538.4,722.2 538.5,720.7 538.7,719.4 538.8,717.6 539.0,715.7 539.1,714.4 539.3,712.5 541.6,711.4 542.7,714.5 543.1,712.7 543.5,710.8 544.0,709.0 544.4,707.3 545.5,709.5 545.8,708.0 546.2,706.3 546.5,704.4 546.9,702.7 547.2,700.4 549.5,700.4 550.4,699.1 551.2,698.1 551.8,699.5 552.3,701.2 552.9,702.9 553.4,704.1 553.6,705.8 553.7,707.7 553.9,709.1 554.1,710.8 554.2,712.2 554.4,713.9 554.6,715.5 554.8,717.0 554.9,718.8 555.1,720.3 556.2,722.6 557.4,724.3 558.5,725.9 558.8,724.4 559.2,722.5 559.5,721.0 559.9,719.6 560.2,717.7 561.0,719.1 561.9,720.7 562.4,718.5 562.9,717.2 563.3,715.3 563.8,713.2 564.3,711.7 564.8,710.1 565.4,711.5 565.9,713.3 566.5,715.3 566.7,713.3 567.0,711.5 567.2,710.1 567.4,708.0 567.7,706.8 567.9,704.8 569.1,706.1 570.4,708.1 570.7,709.8 571.1,711.9 571.4,713.3 571.7,715.3 572.0,717.2 572.4,719.0 572.7,720.7 572.9,722.3 573.1,724.0 573.4,725.6 573.6,727.2 573.8,728.7 574.0,730.5 574.2,731.7 574.5,733.8 574.7,735.4 574.9,736.9 575.3,738.3 575.7,740.3 576.1,741.8 576.6,743.3 577.0,745.3 577.4,746.4 577.8,747.9 578.1,746.7 578.4,744.8 578.6,742.5 578.9,740.8 579.2,739.0 579.5,737.2 579.8,735.5 580.0,733.9 580.3,732.5 580.6,730.5 580.9,729.4 581.2,727.2 581.4,725.7 581.7,724.1 582.2,722.4 582.6,720.7 583.1,718.7 583.5,716.9 584.0,714.7 584.3,716.3 584.6,718.2 584.9,720.2 585.1,721.6 585.4,723.7 585.7,725.3 585.9,726.7 586.1,728.6 586.3,730.0 586.5,731.7 586.6,733.8 586.8,735.6 587.0,736.8 587.2,738.7 587.4,740.1 587.6,738.5 587.8,737.4 588.0,735.7 588.2,734.0 588.5,732.3 588.7,730.8 588.9,729.2 589.1,727.2 590.0,725.6 590.8,724.2 591.0,722.3 591.2,720.4 591.4,718.5 591.6,717.1 591.9,715.4 592.1,713.0 592.3,711.8 592.5,709.8 593.2,707.8 594.0,706.4 594.7,705.0 595.5,706.5 596.2,708.4 597.0,710.5 599.2,708.6 600.5,707.0 601.7,705.7 602.4,707.3 603.1,709.1 603.8,711.0 605.5,711.4 605.9,713.3 606.4,714.7 606.8,716.0 607.2,717.6 607.6,715.9 608.0,714.1 608.4,712.3 608.8,710.8 609.2,708.9 609.4,710.8 609.7,712.4 609.9,714.2 610.1,715.9 610.4,717.5 610.6,719.5 610.9,721.0 611.2,722.5 611.5,724.3 611.7,726.5 612.0,727.8 612.3,729.6 612.6,727.8 612.9,726.5 613.2,724.7 613.6,722.6 613.9,720.9 614.2,719.4 614.5,717.5 614.7,719.1 614.8,720.8 615.0,722.5 615.2,724.5 615.4,726.1 615.5,727.7 615.7,729.6 615.9,731.0 616.0,732.4 616.2,734.5 616.7,736.0 617.2,738.1 617.7,739.7 618.1,741.6 618.6,743.3 619.1,744.8 619.3,743.2 619.5,741.6 619.7,739.6 619.9,738.1 620.0,736.4 620.2,735.0 620.4,733.6 620.6,732.1 620.8,730.1 621.0,728.4 621.9,726.8 622.7,725.2 623.6,724.0 625.9,724.9 626.3,723.4 626.7,721.9 627.1,719.7 627.5,718.3 627.8,716.6 628.2,715.4 628.5,713.2 628.9,712.1 629.2,710.5 631.5,711.5 634.2,710.9" stroke="#ff0000" stroke-width="3.1" fill="none" stroke-linejoin="round" stroke-linecap="round"/>
<polyline points="395.3,791.3 396.1,793.5 396.8,795.4 396.9,793.8 396.9,792.2 397.0,790.7 397.0,789.1 397.1,787.4 397.1,785.6 397.2,784.5 397.2,782.5 397.3,781.0 397.3,779.6 397.4,778.1 397.5,775.8 397.5,774.7 397.6,772.8 397.6,771.4 397.7,769.6 397.7,767.8 397.8,766.4 397.8,764.8 397.9,763.5 397.9,761.5 398.0,759.7 398.1,758.1 398.1,756.7 398.2,755.5 398.2,753.9 398.3,752.2 398.3,750.0 398.4,748.7 398.4,746.9 398.5,745.7 398.5,744.0 398.6,742.4 398.7,744.2 398.8,745.7 398.8,747.5 398.9,748.5 399.0,750.4 399.1,751.8 399.1,753.7 399.2,755.6 399.3,757.0 399.4,758.5 399.5,760.1 399.5,762.0 399.6,763.5 399.7,765.5 399.8,767.0 399.8,768.4 399.9,770.6 400.0,771.7 400.0,773.8 400.1,775.4 400.1,777.0 400.2,778.3 400.2,780.4 400.3,781.9 400.3,783.2 400.4,785.2 400.4,787.1 400.4,788.7 400.5,789.7 400.5,791.5 400.6,793.4 400.6,795.0 400.7,796.4 400.7,798.0 400.7,799.6 400.8,801.3 400.8,803.4 400.9,804.8 400.9,806.2 401.0,808.0 401.0,809.9 401.0,811.2 401.1,813.3 401.1,814.8 401.2,816.2 401.2,818.2 401.3,819.7 401.3,821.0 401.4,822.6 401.4,824.2 401.5,825.8 401.6,827.9 401.7,829.3 401.8,830.9 401.9,832.6 402.0,834.1 402.1,836.2 402.2,837.4 402.4,839.4 402.5,840.7 402.6,842.7 402.7,843.9 402.8,845.9 402.9,847.2 403.0,849.1 403.1,850.6 403.8,852.4 404.5,853.3 405.2,855.4 405.3,853.3 405.4,852.2 405.5,850.5 405.5,848.5 405.6,847.3 405.7,845.2 405.8,843.6 405.9,842.1 406.0,840.5 406.1,838.5 406.1,837.4 406.2,835.8 406.3,834.2 406.4,832.2 406.5,830.7 406.6,829.1 406.7,827.2 406.7,825.8 406.8,824.0 406.9,822.6 407.0,820.8 407.2,822.9 407.4,823.9 407.6,825.7 407.8,827.1 408.0,828.8 408.2,830.9 408.4,832.3 408.6,834.0 408.8,835.8 409.0,837.2 409.2,838.9 409.4,840.6 409.6,841.9 409.8,843.9 410.0,845.5 410.2,846.8 410.3,848.5 410.5,850.1 410.7,851.9 410.9,853.8 411.1,855.4 411.3,857.4 411.5,858.5 411.6,860.4 411.8,861.9 412.0,863.6 412.2,865.6 412.4,864.1 412.7,862.6 412.9,860.8 413.1,858.8 413.4,857.0 413.6,855.4 413.8,854.2 414.1,852.5 414.3,851.0 414.6,852.3 415.0,853.8 415.3,855.6 415.6,857.6 415.9,859.5 416.3,861.5 416.6,863.0 416.9,865.0 417.2,866.7 417.4,868.5 417.7,869.8 418.0,872.0 418.2,869.9 418.4,867.9 418.6,866.6 418.8,864.4 419.0,862.9 419.2,861.3 419.4,859.3 419.6,857.7 421.3,859.2 421.4,857.7 421.5,856.1 421.5,854.4 421.6,853.1 421.7,851.3 421.8,849.5 421.9,848.2 422.0,846.5 422.0,844.6 422.1,842.8 422.2,841.4 422.3,840.1 422.4,838.4 422.4,836.6 422.5,834.8 422.6,833.6 422.7,832.0 422.8,829.9 422.9,828.4 422.9,827.0 423.0,825.4 423.1,823.6 423.2,825.0 423.3,827.1 423.5,828.3 423.6,830.6 423.7,832.0 423.8,833.5 423.9,835.1 424.0,837.3 424.1,838.8 424.3,840.3 424.4,841.8 424.5,844.0 424.9,842.2 425.4,839.9 425.8,838.5 426.2,836.7 426.7,834.6 427.1,833.3 427.2,831.4 427.2,829.9 427.3,828.6 427.4,827.0 427.4,824.8 427.5,823.1 427.6,821.9 427.6,820.1 427.7,818.9 427.7,817.2 427.8,815.1 427.9,813.9 427.9,812.3 428.0,810.3 428.1,808.7 428.1,807.5 428.2,805.4 428.3,803.9 428.3,802.6 428.4,800.7 428.4,799.2 428.5,797.2 428.6,795.7 428.6,794.5 428.7,792.5 428.8,790.8 428.8,789.4 428.9,787.5 429.4,786.1 430.0,784.2 430.6,782.4 431.1,780.4 431.2,782.0 431.3,783.7 431.3,785.8 431.4,787.4 431.5,789.1 431.6,790.2 431.6,792.1 431.7,793.9 431.8,795.0 431.9,796.8 432.0,798.4 432.0,800.0 432.1,801.5 432.2,803.4 432.3,805.1 432.3,806.4 432.4,808.3 432.5,809.7 432.6,811.4 432.7,813.0 432.7,814.8 432.8,816.3 432.9,817.8 433.0,819.5 433.0,821.1 433.1,823.1 433.2,824.8 433.5,826.3 433.8,828.1 434.1,829.6 434.4,831.4 434.7,833.2 435.0,835.1 435.2,833.4 435.4,831.9 435.6,830.0 435.8,828.9 436.0,827.0 436.2,825.6 436.4,823.9 436.6,821.8 436.8,820.7 437.0,818.6 437.2,817.5 437.4,815.5 437.6,814.2 438.0,812.0 438.3,810.3 438.7,808.4 439.0,807.2 439.4,805.3 439.5,803.4 439.6,801.8 439.7,800.3 439.8,798.5 439.9,796.9 440.0,795.3 440.1,793.6 440.2,792.2 440.4,790.6 440.5,788.9 440.6,787.2 440.7,785.8 440.8,784.1 440.9,782.5 441.0,780.8 441.1,778.7 441.3,780.5 441.4,782.3 441.6,784.0 441.7,785.8 441.9,787.9 442.0,789.6 442.2,791.6 442.3,793.1 442.5,794.7 442.6,793.3 442.7,791.6 442.8,789.8 442.9,788.1 443.0,786.6 443.1,784.7 443.2,783.3 443.3,781.7 443.4,780.2 443.5,778.0 443.6,776.6 443.7,774.9 443.8,773.7 443.9,771.8 444.0,770.0 444.1,768.3 444.2,770.1 444.2,771.5 444.3,773.3 444.4,774.7 444.4,776.8 444.5,778.0 444.6,779.9 444.6,781.6 444.7,782.8 444.8,784.6 444.8,786.2 444.9,788.1 445.0,789.8 445.0,791.0 445.1,792.9 445.2,794.2 445.2,795.8 445.3,797.6 445.3,799.2 445.4,801.3 445.5,802.7 445.5,803.9 445.6,805.5 445.7,807.1 445.7,809.2 445.8,810.6 445.9,812.6 445.9,813.8 446.0,815.7 446.1,817.4 446.1,818.5 446.2,820.8 446.3,822.3 446.3,824.0 446.4,825.2 446.5,823.4 446.6,821.8 446.6,820.7 446.7,818.9 446.8,817.1 446.9,815.2 447.0,814.2 447.0,812.2 447.1,810.6 447.2,808.8 447.3,807.6 447.4,805.8 447.5,804.2 447.5,802.4 447.6,800.9 447.7,799.4 447.8,797.6 447.9,795.8 447.9,794.4 448.0,792.7 448.1,790.9 448.2,789.3 448.3,788.2 448.3,786.0 448.4,784.4 448.5,782.7 448.6,781.1 448.7,779.7 448.7,778.2 448.8,776.4 448.9,775.2 449.0,772.9 449.1,771.3 449.1,769.8 449.2,768.2 449.3,766.4 449.4,768.5 449.5,770.2 449.6,771.8 449.7,772.9 449.9,774.6 450.0,776.7 450.1,777.8 450.2,779.7 450.3,781.4 450.4,783.1 450.5,784.6 450.6,785.8 450.7,787.4 450.8,789.0 451.0,791.1 451.1,792.4 451.2,794.2 451.3,795.8 451.4,797.6 451.5,795.9 451.6,794.3 451.8,792.7 451.9,791.0 452.0,789.0 452.1,787.6 452.2,786.3 452.4,784.3 452.5,782.9 452.6,780.9 452.7,779.6 452.8,778.1 453.0,776.2 453.1,774.5 453.2,772.9 453.3,774.5 453.3,775.9 453.4,778.2 453.5,779.7 453.5,781.1 453.6,783.1 453.6,784.6 453.7,786.3 453.8,787.9 453.8,789.4 453.9,791.2 454.0,792.4 454.0,794.4 454.1,796.2 454.2,797.8 454.2,798.9 454.3,800.9 454.3,802.5 454.4,803.8 454.5,805.6 454.5,807.2 454.6,809.3 454.7,807.5 454.8,805.6 455.0,803.8 455.1,802.2 455.2,800.1 455.3,798.8 455.4,796.9 455.6,795.2 455.7,793.6 455.8,791.6 455.8,793.5 455.9,794.7 455.9,796.5 456.0,798.0 456.0,799.6 456.0,801.5 456.1,802.9 456.1,804.6 456.2,806.1 456.2,807.8 456.3,809.2 456.3,811.1 456.3,812.8 456.4,814.1 456.4,815.5 456.5,817.1 456.5,819.2 456.5,820.9 456.6,821.9 456.6,824.1 456.7,825.4 456.7,826.8 456.7,828.7 456.8,830.3 456.8,832.2 456.9,833.8 456.9,835.4 457.0,836.5 457.0,838.3 457.0,839.8 457.1,841.3 457.1,843.4 457.2,844.6 457.2,846.1 457.4,847.7 457.6,849.9 457.8,851.3 458.0,853.0 458.3,854.5 458.5,855.9 458.7,857.7 458.9,859.1 459.1,857.4 459.4,855.7 459.6,854.2 459.9,852.6 460.1,851.2 460.3,849.3 460.6,847.7 460.8,845.7 462.7,848.0 463.5,849.9 464.4,852.5 464.7,850.0 465.0,848.2 465.2,846.6 465.5,844.6 465.8,842.8 468.0,844.9 468.1,846.6 468.3,848.0 468.4,849.7 468.5,851.4 468.7,853.3 468.8,854.6 468.9,856.4 469.1,858.1 469.2,860.0 469.4,861.8 469.5,862.9 469.6,864.6 469.8,866.1 469.9,867.9 470.3,866.3 470.8,864.7 471.2,862.6 471.6,861.0 472.0,862.1 472.3,864.2 472.6,865.7 473.0,867.4 473.1,865.6 473.3,864.1 473.4,862.5 473.5,861.1 473.7,859.0 473.8,857.8 474.0,856.1 474.1,854.4 474.2,852.5 474.4,851.2 474.5,849.6 474.7,847.8 475.0,846.1 475.2,844.5 475.4,842.3 475.7,840.9 475.9,839.5 476.3,840.7 476.8,842.5 477.2,844.5 477.7,846.4 477.9,848.1 478.0,849.7 478.2,851.5 478.3,853.0 478.5,854.7 478.6,856.6 478.8,858.0 479.1,859.8 479.5,861.0 479.8,863.2 480.2,864.7 480.5,866.6 480.7,864.8 480.9,863.1 481.1,862.0 481.2,860.0 481.4,858.7 481.6,856.7 481.8,855.3 482.0,853.7 482.2,852.1 482.4,850.4 482.6,848.9 482.8,847.1 483.0,845.6 483.2,843.5 483.4,841.8 485.0,843.2 485.1,845.4 485.3,846.7 485.4,848.5 485.5,850.5 485.6,851.9 485.8,853.5 485.9,855.7 486.0,857.1 486.2,859.2 486.3,860.5 486.5,858.9 486.6,857.9 486.8,856.1 486.9,854.1 487.1,852.5 487.2,851.2 487.4,849.4 487.5,847.9 487.7,846.1 487.8,844.9 487.9,843.0 488.0,841.6 488.2,839.9 488.3,838.0 488.4,836.8 488.5,834.6 488.6,832.9 488.7,831.4 488.9,829.7 489.0,828.3 489.1,826.4 489.2,824.9 489.3,823.3 489.4,821.5 489.5,820.1 489.7,818.3 489.8,816.7 489.9,815.3 490.0,813.4 490.2,815.2 490.4,816.8 490.6,818.3 490.8,819.9 491.0,821.3 491.2,823.2 491.4,824.5 491.6,826.3 491.8,827.6 491.9,829.6 492.0,831.2 492.1,832.5 492.1,834.2 492.2,835.9 492.3,837.6 492.4,838.8 492.5,840.5 492.6,842.4 492.7,844.2 492.8,845.4 492.9,847.2 492.9,848.8 493.0,850.6 493.1,851.9 493.2,853.3 493.3,855.0 493.3,856.8 493.4,858.3 493.5,860.2 493.6,861.9 493.6,863.2 493.7,865.0 493.8,867.0 493.8,868.5 493.9,870.0 494.0,871.8 494.0,873.7 494.1,875.3 494.2,876.7 494.3,878.4 494.3,880.1 494.4,882.0 496.8,882.0 497.0,879.7 497.2,878.2 497.4,876.4 497.6,874.7 497.7,873.4 497.9,871.1 498.1,869.9 498.3,868.2 498.6,866.4 498.9,864.8 499.1,862.5 499.4,861.4 499.7,859.4 499.9,860.8 500.2,863.0 500.4,864.4 500.6,865.9 500.9,867.8 501.1,869.0 501.4,871.0 501.6,872.2 502.5,869.9 503.3,868.2 504.0,866.1 504.8,864.2 505.5,862.3 505.7,863.8 506.0,865.8 506.2,867.6 506.4,869.3 506.7,870.9 506.9,872.4 507.1,870.6 507.3,869.2 507.5,866.9 507.7,865.2 507.9,863.7 508.1,862.1 508.3,860.4 508.5,858.6 508.7,857.1 508.9,855.1 509.1,853.5 510.1,851.8 511.2,850.4 511.4,852.4 511.6,853.7 511.9,855.6 512.1,857.0 512.3,858.8 512.5,860.3 512.7,861.6 513.0,863.2 513.2,865.2 513.4,866.9 513.5,864.6 513.7,863.1 513.8,861.6 514.0,859.4 514.1,858.3 514.2,856.4 514.4,854.5 514.5,852.7 514.7,851.1 514.8,849.6 514.9,847.6 515.0,846.0 515.1,844.1 515.3,842.8 515.4,840.9 515.5,839.5 515.6,837.8 515.7,836.1 515.8,834.0 516.0,832.6 516.1,830.7 516.2,829.3 516.3,827.3 516.4,825.9 516.5,824.1 516.7,822.4 516.8,820.7 516.9,819.0 517.0,817.8 517.9,816.3 518.1,814.5 518.4,813.0 518.6,811.0 518.8,809.6 519.1,808.0 519.3,806.3 520.0,807.4 520.8,808.8 520.9,807.3 521.0,805.7 521.1,803.8 521.2,802.2 521.3,800.5 521.4,799.1 521.5,797.7 521.6,795.7 521.7,794.5 521.8,792.2 521.9,791.2 522.0,788.9 522.1,787.7 522.2,785.8 523.6,785.5 523.8,783.8 524.1,781.8 524.3,779.8 524.6,778.7 524.8,776.9 524.9,778.4 525.0,779.7 525.1,781.5 525.1,783.3 525.2,784.8 525.3,786.7 525.4,788.5 525.5,790.2 525.6,791.6 525.7,793.4 525.8,795.2 525.9,796.4 525.9,798.0 526.0,800.1 526.1,801.8 526.2,803.4 526.5,804.6 526.7,806.7 527.0,808.3 527.2,809.7 527.5,811.4 527.7,813.6 527.8,814.7 527.8,816.6 527.9,818.2 527.9,819.8 528.0,821.4 528.0,823.1 528.1,824.8 528.1,827.1 528.2,828.6 528.3,830.3 528.3,831.7 528.4,833.7 528.4,835.1 528.5,837.0 528.5,838.6 528.6,840.4 528.6,842.0 528.7,843.6 528.9,845.0 529.0,846.9 529.2,848.7 529.3,850.6 529.5,852.1 529.6,854.2 529.8,855.8 529.9,857.7 530.1,859.2 531.2,858.2 532.3,856.2 532.4,855.0 532.6,853.1 532.7,851.3 532.9,850.1 533.0,848.1 533.1,846.4 533.3,844.9 533.4,842.9 533.6,841.0 533.7,839.5 533.8,838.3 534.0,836.4 534.1,835.0 534.3,832.9 534.4,831.5 534.6,833.0 534.8,834.9 535.1,836.1 535.3,837.6 535.5,839.9 535.7,841.5 535.9,842.8 536.2,844.7 536.4,846.5 536.6,847.7 536.7,849.3 536.8,851.5 537.0,852.7 537.1,854.8 537.2,856.1 537.3,857.9 537.5,859.8 537.6,861.1 537.7,863.1 537.8,864.6 537.9,866.2 538.1,868.0 538.2,870.1 538.3,871.7 538.8,870.1 539.2,867.9 539.7,866.5 540.1,865.0 540.6,862.7 541.0,864.5 541.4,865.9 541.9,868.1 542.3,869.2 542.7,870.6 544.5,870.6 544.8,872.6 545.0,874.2 545.3,876.5 545.6,877.7 545.9,879.9 546.1,881.4 546.4,883.0 547.6,881.7 548.8,880.6 549.5,882.3 550.3,883.9 550.6,882.3 551.0,880.3 551.3,879.2 551.7,877.2 552.0,875.5 552.4,874.2 552.7,872.6 552.8,870.5 552.9,869.2 553.0,867.3 553.1,865.9 553.2,864.1 553.3,862.4 553.4,860.8 553.5,859.1 553.7,857.6 553.8,855.6 553.9,854.0 554.0,852.4 554.1,851.3 554.2,849.2 554.3,848.0 554.4,846.4 554.5,844.3 554.6,842.5 557.1,842.3 557.3,843.9 557.5,845.7 557.7,847.1 557.9,849.1 558.1,851.2 558.3,852.7 558.5,854.6 558.7,856.2 558.9,857.7 559.1,856.0 559.4,854.8 559.6,853.0 559.9,851.1 560.1,849.8 560.4,848.2 560.6,849.4 560.7,851.3 560.9,852.9 561.0,854.3 561.2,856.3 561.4,858.0 561.5,859.8 561.7,861.1 561.9,863.0 562.0,864.8 562.2,866.1 562.3,868.2 562.5,869.8 563.2,871.5 564.0,873.0 564.7,874.9 564.9,873.9 565.1,872.1 565.2,870.7 565.4,868.8 565.6,867.2 565.8,865.5 565.9,864.0 566.1,862.4 566.3,864.2 566.4,865.6 566.6,867.3 566.8,869.0 566.9,870.4 567.1,871.6 567.3,873.2 567.4,875.0 567.6,876.9 567.9,874.7 568.2,873.2 568.5,871.7 568.8,869.8 569.1,868.6 569.4,866.9 569.6,864.6 569.8,862.8 569.9,861.7 570.1,859.7 570.3,857.8 570.5,856.1 570.7,854.6 570.8,852.4 571.0,851.4 571.2,849.2 571.4,847.5 571.7,845.7 571.9,844.4 572.1,842.7 572.4,840.7 572.6,839.1 572.7,837.8 572.8,835.6 572.9,834.3 573.0,832.6 573.1,830.8 573.2,829.4 573.2,827.6 573.3,825.7 573.4,824.3 573.5,822.8 573.6,821.1 573.7,819.3 573.8,817.9 574.0,815.9 574.1,814.6 574.3,812.6 574.4,811.5 574.6,809.8 574.7,808.0 574.9,806.7 575.0,804.5 575.2,803.0 575.5,801.8 575.9,800.1 576.2,798.4 576.6,796.0 576.9,794.5 577.1,796.5 577.3,797.6 577.5,799.4 577.6,801.4 577.8,802.3 578.0,804.1 578.2,805.9 578.4,807.7 578.5,808.9 578.5,810.8 578.6,812.2 578.6,814.2 578.7,815.9 578.8,817.1 578.8,818.6 578.9,820.8 578.9,822.3 579.0,823.8 579.1,825.4 579.1,827.0 579.2,828.7 579.3,830.6 579.3,832.3 579.4,833.7 579.4,834.9 579.5,837.0 579.6,838.3 579.6,840.0 579.7,841.9 579.7,843.1 579.8,844.9 580.1,846.9 580.4,848.6 580.6,850.1 580.9,852.5 581.2,854.0 581.7,855.8 582.2,858.2 582.7,860.0 582.8,858.2 582.9,856.9 583.0,854.9 583.1,853.6 583.2,851.9 583.3,850.2 583.4,848.3 583.5,846.4 583.6,844.7 583.7,843.0 583.8,841.9 583.9,839.8 584.0,838.5 584.1,836.5 584.2,834.8 584.3,832.9 584.4,831.2 584.5,830.2 584.7,828.3 584.8,826.4 584.9,825.2 585.0,823.1 585.2,821.6 585.3,820.4 585.4,818.5 585.5,816.9 585.7,815.3 585.8,813.6 585.9,811.8 586.0,813.5 586.2,815.8 586.3,817.1 586.4,818.7 586.5,820.8 586.7,822.6 586.8,824.2 586.9,826.0 587.1,827.4 587.2,829.3 587.3,831.2 587.3,832.3 587.4,834.4 587.4,836.1 587.5,837.4 587.6,839.4 587.6,840.5 587.7,842.6 587.8,844.0 587.8,845.8 587.9,847.2 587.9,848.8 588.0,850.7 588.2,848.5 588.4,847.2 588.6,845.4 588.9,843.9 589.1,842.1 589.3,840.7 589.4,841.9 589.5,843.5 589.6,845.8 589.7,847.4 589.8,849.0 589.9,850.4 590.0,851.8 590.1,853.7 590.2,855.4 590.3,856.6 590.4,858.5 590.5,860.5 590.6,861.8 590.8,863.7 590.9,865.1 591.0,866.7 591.2,868.0 591.3,869.7 591.5,871.7 591.6,873.3 591.7,875.0 591.9,876.6 592.0,878.0 593.1,876.6 594.2,874.4 594.7,872.3 595.1,870.8 595.5,868.9 596.0,867.3 596.5,868.8 597.0,870.3 597.4,872.2 597.9,873.9 600.4,875.5 600.7,874.0 601.0,872.0 601.3,870.4 601.6,868.4 601.9,866.8 602.2,865.0 602.5,863.1 603.4,865.3 604.3,867.6 604.6,866.0 605.0,864.2 605.4,861.8 605.7,860.0 605.9,861.7 606.1,863.5 606.3,864.9 606.6,866.3 606.8,867.9 607.0,869.8 607.2,871.7 607.3,869.5 607.5,867.8 607.6,866.3 607.8,864.3 607.9,862.9 608.0,861.3 608.2,859.5 608.3,858.0 608.4,855.9 608.6,854.1 608.7,852.5 608.9,851.2 609.0,848.8 610.2,847.0 610.4,845.6 610.5,844.1 610.7,842.2 610.8,840.6 611.0,839.0 611.1,837.2 611.3,836.2 611.4,834.4 611.6,832.4 611.7,830.7 611.9,829.7 612.0,830.9 612.1,832.4 612.2,834.5 612.3,835.7 612.4,837.7 612.5,838.9 612.6,840.5 612.7,842.1 612.8,844.1 612.8,845.7 612.9,847.3 613.0,848.8 613.1,850.3 613.2,851.8 613.3,853.5 613.4,855.2 613.5,856.9 613.6,858.4 613.7,856.6 613.8,855.3 613.9,853.4 614.0,851.9 614.1,850.3 614.2,848.6 614.3,846.6 614.4,845.3 614.5,843.7 614.6,842.0 614.7,840.4 614.8,838.8 614.9,836.8 615.0,835.1 615.1,833.3 615.2,831.7 615.2,830.2 615.3,828.4 615.4,826.7 615.4,825.7 615.5,823.6 615.5,822.5 615.6,820.6 615.6,818.9 615.6,817.0 615.7,815.6 615.8,814.2 615.8,812.3 615.9,810.6 615.9,809.3 616.0,807.6 616.0,806.1 617.7,808.6 618.3,806.0 618.9,804.4 618.9,805.9 619.0,807.1 619.0,809.0 619.0,810.7 619.1,812.4 619.1,814.0 619.1,815.7 619.2,817.1 619.2,819.2 619.2,820.8 619.3,822.3 619.3,823.4 619.3,825.3 619.4,826.8 619.4,828.7 619.5,830.0 619.5,832.1 619.5,833.6 619.6,835.1 619.6,836.9 619.6,838.2 619.7,840.1 619.7,841.4 619.7,843.4 619.8,844.9 619.8,846.7 620.2,845.1 620.6,842.7 621.0,840.8 621.4,839.1 621.7,841.1 621.9,842.8 622.2,844.5 622.4,846.3 622.7,847.9 622.9,849.7 623.2,851.8 623.8,849.7 624.5,848.4 625.1,846.6 625.3,848.2 625.5,850.2 625.6,852.2 625.8,853.8 626.0,855.4 626.2,857.2 626.4,859.0 626.5,860.7 626.7,862.6 626.9,864.1 627.5,866.1 628.2,868.0 628.8,870.1 629.7,868.8 630.6,866.8 632.5,866.2 632.7,864.5 632.8,863.2 633.0,861.5 633.2,859.7 633.4,858.3 633.5,856.5 633.7,855.3 633.9,853.1 634.1,851.7 634.2,849.8 634.4,848.5" stroke="#0000ff" stroke-width="3.1" fill="none" stroke-linejoin="round" stroke-linecap="round"/>
<polyline points="394.7,881.3 395.0,882.5 395.2,885.4 395.5,886.3 395.7,888.7 396.0,890.1 396.2,892.0 396.5,893.8 397.8,892.7 399.1,890.5 399.8,892.0 400.4,894.1 401.1,896.5 401.7,898.4 403.5,897.7 405.2,897.3 407.0,897.7 408.8,899.0 410.5,898.5 412.2,898.3 414.0,899.8 415.8,898.7 417.5,898.8 419.2,899.6 421.0,899.0 422.7,898.2 424.5,897.0 426.2,896.0 428.4,895.3 430.6,894.6 432.6,894.4 434.7,895.0 436.7,896.7 438.4,895.8 440.2,894.9 441.9,894.8 443.7,893.1 445.6,892.9 447.4,893.9 449.3,893.9 451.1,893.7 453.0,893.6 454.3,895.1 455.7,896.1 457.2,896.8 458.6,898.7 460.3,898.0 462.1,898.1 463.8,898.2 465.6,899.6 467.3,898.8 468.9,899.0 470.6,898.2 472.2,898.8 473.9,898.6 475.5,898.8 477.2,898.4 478.8,897.6 480.5,898.0 482.2,897.5 483.9,897.1 485.5,896.6 487.2,897.3 488.9,896.3 490.6,896.5 492.3,897.3 494.1,897.8 495.8,899.2 497.5,898.6 499.2,898.5 500.9,899.3 502.6,899.7 504.2,899.2 505.9,899.6 507.6,899.7 509.3,898.9 511.1,898.0 512.8,897.5 514.6,897.2 516.3,896.8 517.8,896.5 519.3,894.7 521.0,894.5 522.7,893.8 524.4,893.4 526.1,894.5 527.7,896.1 529.4,897.0 531.2,898.3 533.0,898.4 534.8,898.1 536.6,899.0 538.4,898.8 540.2,899.6 542.0,899.6 543.8,899.1 545.5,899.2 547.2,898.7 549.0,898.6 550.7,899.4 552.4,899.5 554.2,899.5 556.0,898.5 557.8,898.9 559.6,897.9 561.4,898.5 563.2,898.2 565.1,899.0 566.9,898.3 568.6,897.0 570.3,896.8 572.1,896.3 573.8,895.7 575.5,895.7 577.0,896.0 578.5,898.1 580.0,898.2 581.6,898.2 583.3,896.7 584.9,896.2 586.8,896.7 588.6,897.7 590.4,898.3 592.3,898.8 594.1,898.8 595.8,899.5 597.6,898.9 599.4,899.2 601.2,898.5 602.9,899.2 604.7,898.7 606.6,898.9 608.4,899.2 610.2,898.2 612.1,898.5 613.7,896.8 615.4,896.4 617.0,896.3 618.5,896.0 620.1,897.8 621.7,898.4 623.2,898.7 624.8,899.0 626.4,898.0 628.0,898.8 629.6,898.6 631.2,899.2 632.8,899.0 634.4,899.1" stroke="#00ff00" stroke-width="3.1" fill="none" stroke-linejoin="round" stroke-linecap="round"/>
<rect x="395.4" y="679.4" width="239.0" height="223.9" stroke="#444" stroke-width="1.1" fill="none"/>
<text transform="translate(391.53 906.84) scale(0.7005 0.8357)" font-size="10" text-anchor="end">0</text>
<text transform="translate(391.53 884.45) scale(0.7005 0.8357)" font-size="10" text-anchor="end">0.1</text>
<text transform="translate(391.53 862.06) scale(0.7005 0.8357)" font-size="10" text-anchor="end">0.2</text>
<text transform="translate(391.53 839.67) scale(0.7005 0.8357)" font-size="10" text-anchor="end">0.3</text>
<text transform="translate(391.53 817.28) scale(0.7005 0.8357)" font-size="10" text-anchor="end">0.4</text>
<text transform="translate(391.53 794.89) scale(0.7005 0.8357)" font-size="10" text-anchor="end">0.5</text>
<text transform="translate(391.53 772.50) scale(0.7005 0.8357)" font-size="10" text-anchor="end">0.6</text>
<text transform="translate(391.53 750.11) scale(0.7005 0.8357)" font-size="10" text-anchor="end">0.7</text>
<text transform="translate(391.53 727.72) scale(0.7005 0.8357)" font-size="10" text-anchor="end">0.8</text>
<text transform="translate(391.53 705.33) scale(0.7005 0.8357)" font-size="10" text-anchor="end">0.9</text>
<text transform="translate(391.53 682.94) scale(0.7005 0.8357)" font-size="10" text-anchor="end">1</text>
<text transform="translate(395.40 915.65) scale(0.7005 0.8357)" font-size="10" text-anchor="middle">0</text>
<text transform="translate(419.30 915.65) scale(0.7005 0.8357)" font-size="10" text-anchor="middle">50</text>
<text transform="translate(443.20 915.65) scale(0.7005 0.8357)" font-size="10" text-anchor="middle">100</text>
<text transform="translate(467.10 915.65) scale(0.7005 0.8357)" font-size="10" text-anchor="middle">150</text>
<text transform="translate(491.00 915.65) scale(0.7005 0.8357)" font-size="10" text-anchor="middle">200</text>
<text transform="translate(514.90 915.65) scale(0.7005 0.8357)" font-size="10" text-anchor="middle">250</text>
<text transform="translate(538.80 915.65) scale(0.7005 0.8357)" font-size="10" text-anchor="middle">300</text>
<text transform="translate(562.70 915.65) scale(0.7005 0.8357)" font-size="10" text-anchor="middle">350</text>
<text transform="translate(586.60 915.65) scale(0.7005 0.8357)" font-size="10" text-anchor="middle">400</text>
<text transform="translate(610.50 915.65) scale(0.7005 0.8357)" font-size="10" text-anchor="middle">450</text>
<text transform="translate(634.40 915.65) scale(0.7005 0.8357)" font-size="10" text-anchor="middle">500</text>
<text transform="translate(514.30 928.84) scale(0.7755 0.9252)" font-size="10" text-anchor="middle">Time (days),h=100</text>
<text transform="translate(378.20 791.55) rotate(-90) scale(0.9331 0.7821)" font-size="10" text-anchor="middle">Sub Populations</text>
<text transform="translate(403.75 675.92) scale(0.7895 0.9419)" font-size="10" class="ttl" textLength="280.04" lengthAdjust="spacingAndGlyphs">Stochastic NSFD-Corona Virus Existing Equilibrium(CVEE)</text>
<rect x="548.7" y="751.6" width="56.8" height="34.5" stroke="#5a5a5a" stroke-width="0.9" fill="#fff"/>
<path d="M550.7 757.9H567.2" stroke="#ff0000" stroke-width="2.6"/>
<text transform="translate(568.81 760.57) scale(0.6469 0.7718)" font-size="10">Susceptible</text>
<path d="M550.7 768.6H567.2" stroke="#0000ff" stroke-width="2.6"/>
<text transform="translate(568.81 771.27) scale(0.6469 0.7718)" font-size="10">Infected</text>
<path d="M550.7 779.3H567.2" stroke="#00ff00" stroke-width="2.6"/>
<text transform="translate(568.81 781.98) scale(0.6469 0.7718)" font-size="10">Recovered</text>
<rect x="467.3" y="139.5" width="85.4" height="49.2" stroke="#5a5a5a" stroke-width="0.9" fill="none"/>
<text transform="translate(471.50 152.60) scale(0.8562 0.9715)" font-size="10">Stochastic Euler</text>
<text transform="translate(471.50 165.05) scale(0.8562 0.9715)" font-size="10">Shows negative</text>
<text transform="translate(471.50 177.50) scale(0.8562 0.9715)" font-size="10">and unbounded</text>
<text transform="translate(471.50 189.95) scale(0.8562 0.9715)" font-size="10">values</text>
<path d="M467.3 139.5L484.6 46" stroke="#333" stroke-width="0.8"/>
<path d="M485.4 38.8L481.0 47.6L484.3 45.4L487.0 48.5Z" fill="#000"/>
<path d="M469.6 192.9L458.5 226" stroke="#333" stroke-width="0.8"/>
<path d="M455.5 233.6L455.0 223.8L457.6 227.3L461.6 226.4Z" fill="#000"/>
<rect x="431.4" y="550.4" width="191.1" height="16.5" stroke="#5a5a5a" stroke-width="0.9" fill="none"/>
<text transform="translate(435.60 561.90) scale(0.7973 0.8331)" font-size="10">Stochastic Runge Kutta shows unbounded results</text>
<path d="M431.4 550.4L492.5 384" stroke="#333" stroke-width="0.8"/>
<path d="M494.5 377.7L488.2 384.5L492.4 383.2L494.7 386.3Z" fill="#000"/>
<text x="136.3" y="311.0" font-size="21" class="cap">(a)</text>
<text x="525.7" y="311.0" font-size="21" class="cap">(b)</text>
<text x="162.0" y="639.0" font-size="21" class="cap">(c)</text>
<text x="546.0" y="639.0" font-size="21" class="cap">(d)</text>
<text x="162.0" y="967.2" font-size="21" class="cap">(e)</text>
<text x="555.8" y="968.2" font-size="21" class="cap">(f)</text>
</g>
</svg></body></html>
